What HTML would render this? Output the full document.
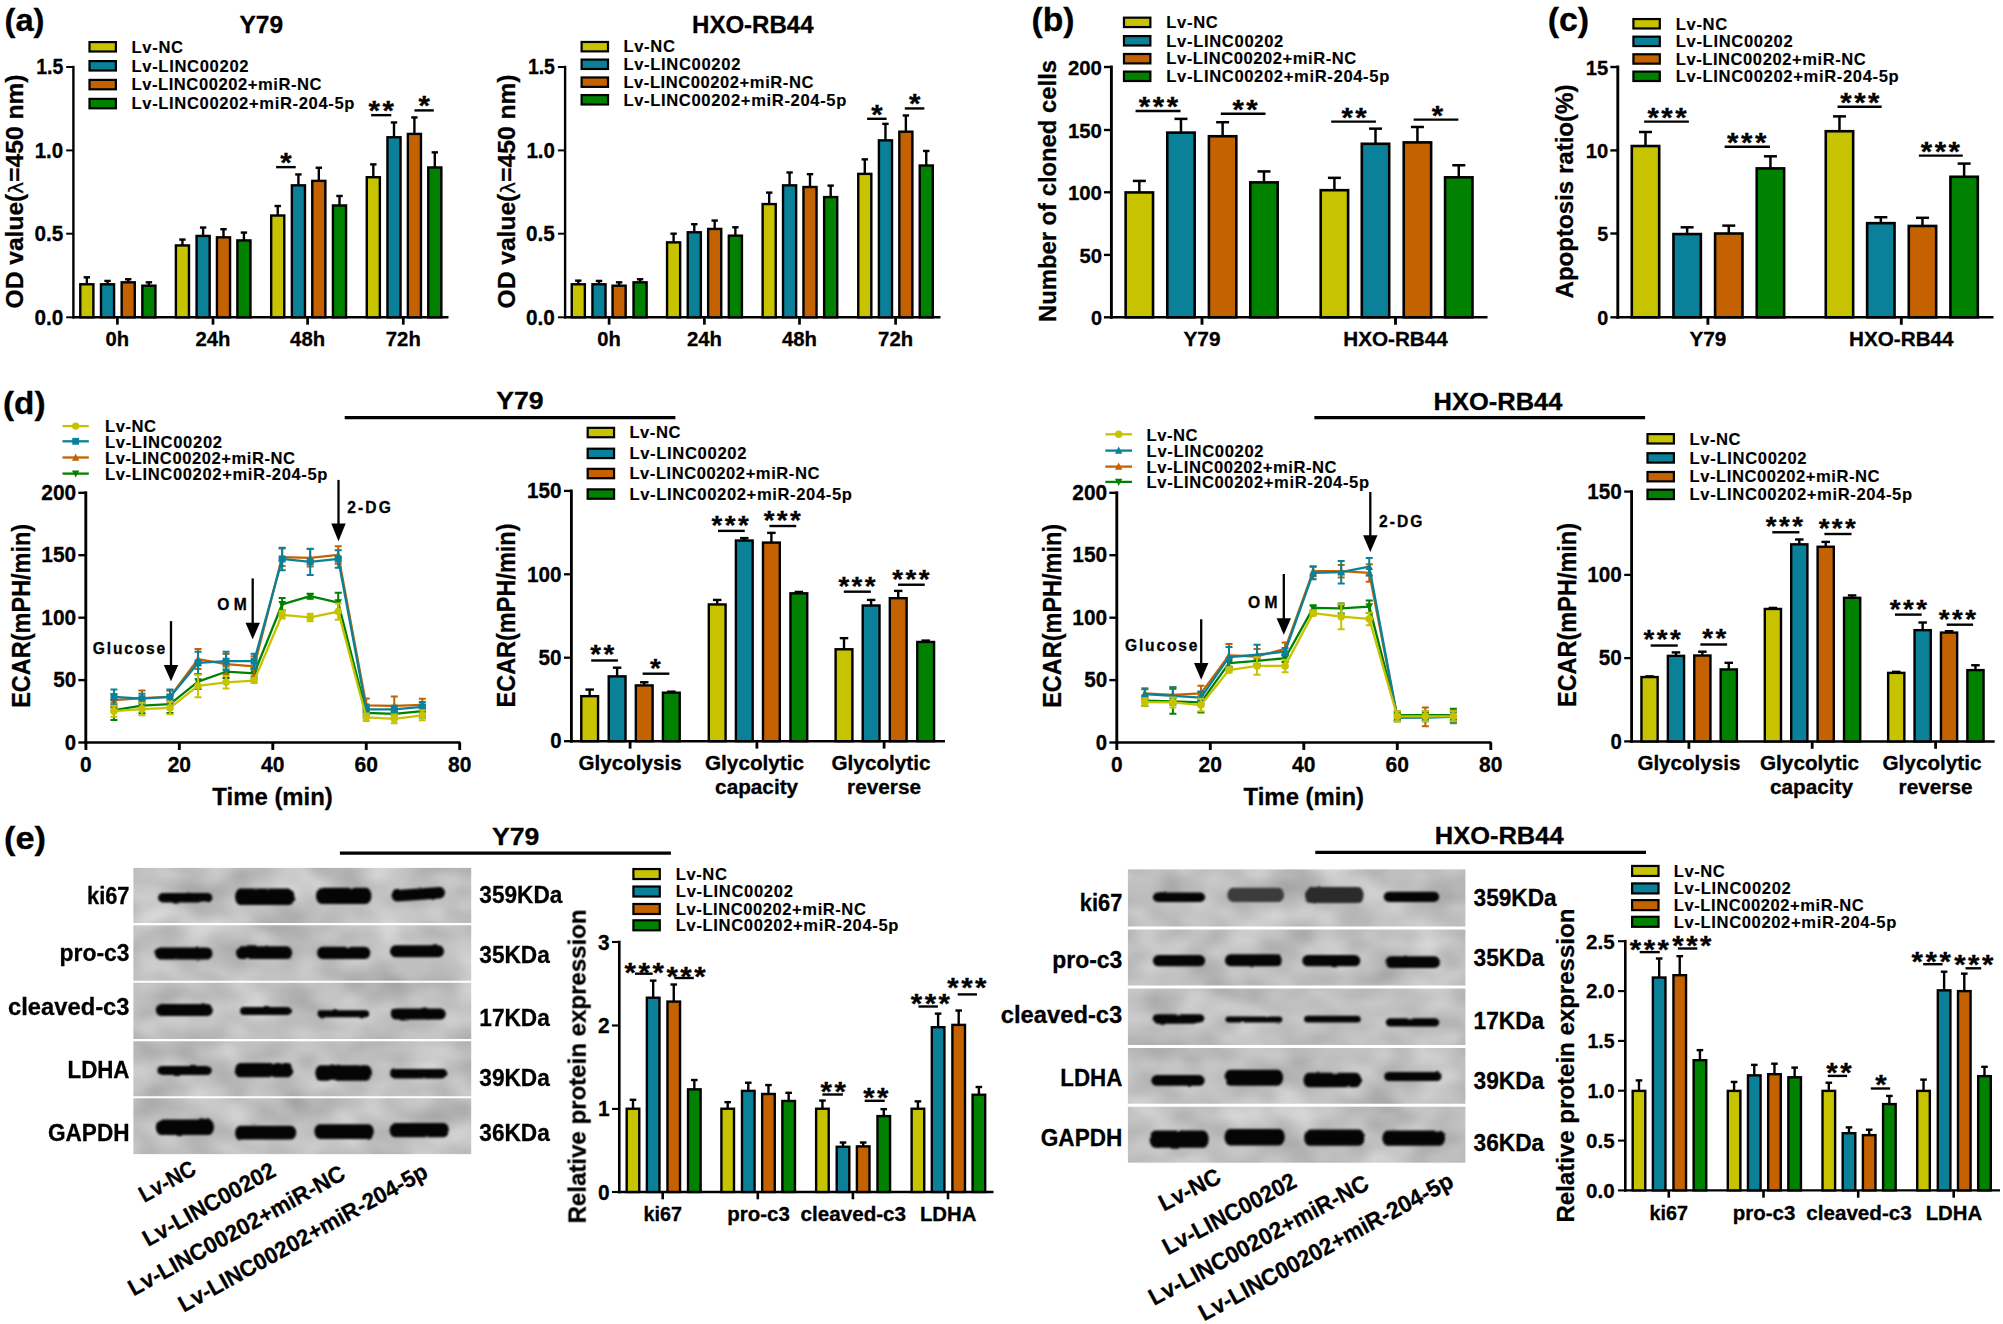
<!DOCTYPE html>
<html lang="en">
<head>
<meta charset="utf-8">
<title>LINC00202 / miR-204-5p figure</title>
<style>
html,body{margin:0;padding:0;background:#fff;}
body{width:2003px;height:1324px;overflow:hidden;font-family:"Liberation Sans",Arial,sans-serif;}
svg{display:block;}
svg text{white-space:pre;stroke:#000;stroke-width:.3px;}
svg text.lg{stroke-width:.12px;}
</style>
</head>
<body>
<svg width="2003" height="1324" viewBox="0 0 2003 1324" font-family="'Liberation Sans', Arial, Helvetica, sans-serif" font-weight="bold" fill="#000">
<rect x="0" y="0" width="2003" height="1324" fill="#fff" stroke="none"/>
<defs><filter id="bl" x="-5%" y="-5%" width="110%" height="110%" color-interpolation-filters="sRGB"><feTurbulence type="fractalNoise" baseFrequency="0.07" numOctaves="2" seed="11" result="t"/><feDisplacementMap in="SourceGraphic" in2="t" scale="2.2" xChannelSelector="R" yChannelSelector="G" result="d"/><feGaussianBlur in="d" stdDeviation="1.15"/></filter><filter id="blbg" x="0" y="0" width="100%" height="100%" color-interpolation-filters="sRGB"><feTurbulence type="fractalNoise" baseFrequency="0.022 0.032" numOctaves="2" seed="7" result="n"/><feColorMatrix in="n" type="matrix" values="0.28 0 0 0 0.61  0.28 0 0 0 0.61  0.28 0 0 0 0.61  0 0 0 0 1" result="g"/><feComposite in="g" in2="SourceGraphic" operator="in"/></filter></defs>
<text x="4.5" y="31" font-size="31.5" textLength="40" lengthAdjust="spacingAndGlyphs">(a)</text>
<text x="261.3" y="33.2" font-size="23.8" text-anchor="middle" textLength="43.6" lengthAdjust="spacingAndGlyphs">Y79</text>
<line x1="73.4" y1="65.8" x2="73.4" y2="318.5" stroke="#000" stroke-width="2.4"/>
<line x1="66.2" y1="67" x2="73.4" y2="67" stroke="#000" stroke-width="1.97"/>
<text x="63.2" y="74.33" font-size="21.3" text-anchor="end" textLength="27" lengthAdjust="spacingAndGlyphs">1.5</text>
<line x1="66.2" y1="150.4" x2="73.4" y2="150.4" stroke="#000" stroke-width="1.97"/>
<text x="63.2" y="157.73" font-size="21.3" text-anchor="end" textLength="28.5" lengthAdjust="spacingAndGlyphs">1.0</text>
<line x1="66.2" y1="233.7" x2="73.4" y2="233.7" stroke="#000" stroke-width="1.97"/>
<text x="63.2" y="241.03" font-size="21.3" text-anchor="end" textLength="28.8" lengthAdjust="spacingAndGlyphs">0.5</text>
<line x1="66.2" y1="317.3" x2="73.4" y2="317.3" stroke="#000" stroke-width="1.97"/>
<text x="63.2" y="324.63" font-size="21.3" text-anchor="end" textLength="28.8" lengthAdjust="spacingAndGlyphs">0.0</text>
<line x1="72.25" y1="317.3" x2="448.5" y2="317.3" stroke="#000" stroke-width="2.43"/>
<line x1="117.4" y1="317.3" x2="117.4" y2="324.65" stroke="#000" stroke-width="2.7"/>
<line x1="213" y1="317.3" x2="213" y2="324.65" stroke="#000" stroke-width="2.7"/>
<line x1="307.6" y1="317.3" x2="307.6" y2="324.65" stroke="#000" stroke-width="2.7"/>
<line x1="403.3" y1="317.3" x2="403.3" y2="324.65" stroke="#000" stroke-width="2.7"/>
<text x="117.4" y="346" font-size="20.6" text-anchor="middle" textLength="23.6" lengthAdjust="spacingAndGlyphs">0h</text>
<text x="213" y="346" font-size="20.6" text-anchor="middle" textLength="35" lengthAdjust="spacingAndGlyphs">24h</text>
<text x="307.6" y="346" font-size="20.6" text-anchor="middle" textLength="35" lengthAdjust="spacingAndGlyphs">48h</text>
<text x="403.3" y="346" font-size="20.6" text-anchor="middle" textLength="35" lengthAdjust="spacingAndGlyphs">72h</text>
<text x="23.3" y="191.5" font-size="24.5" text-anchor="middle" textLength="234" lengthAdjust="spacingAndGlyphs" transform="rotate(-90 23.3 191.5)">OD value(<tspan font-family="'DejaVu Sans',sans-serif" font-weight="normal" font-size="20">λ</tspan>=450 nm)</text>
<rect x="89.5" y="42.1" width="26.4" height="9.4" fill="#c7c300" stroke="#000" stroke-width="2.2"/>
<text x="131.5" y="52.58" font-size="16.6" textLength="51.5" lengthAdjust="spacing" class="lg">Lv-NC</text>
<rect x="89.5" y="61.1" width="26.4" height="9.4" fill="#0a8099" stroke="#000" stroke-width="2.2"/>
<text x="131.5" y="71.58" font-size="16.6" textLength="117" lengthAdjust="spacing" class="lg">Lv-LINC00202</text>
<rect x="89.5" y="79.9" width="26.4" height="9.4" fill="#c46100" stroke="#000" stroke-width="2.2"/>
<text x="131.5" y="90.38" font-size="16.6" textLength="190" lengthAdjust="spacing" class="lg">Lv-LINC00202+miR-NC</text>
<rect x="89.5" y="98.9" width="26.4" height="9.4" fill="#008200" stroke="#000" stroke-width="2.2"/>
<text x="131.5" y="109.38" font-size="16.6" textLength="223" lengthAdjust="spacing" class="lg">Lv-LINC00202+miR-204-5p</text>
<line x1="86.84" y1="277.29" x2="86.84" y2="284.08" stroke="#000" stroke-width="2.4"/>
<line x1="83.64" y1="277.29" x2="90.04" y2="277.29" stroke="#000" stroke-width="2.4"/>
<rect x="80.29" y="284.28" width="13.1" height="33.02" fill="#c7c300" stroke="#000" stroke-width="2.4"/>
<line x1="107.53" y1="280.92" x2="107.53" y2="284.08" stroke="#000" stroke-width="2.4"/>
<line x1="104.33" y1="280.92" x2="110.73" y2="280.92" stroke="#000" stroke-width="2.4"/>
<rect x="100.98" y="284.28" width="13.1" height="33.02" fill="#0a8099" stroke="#000" stroke-width="2.4"/>
<line x1="128.21" y1="279.25" x2="128.21" y2="282.12" stroke="#000" stroke-width="2.4"/>
<line x1="125.01" y1="279.25" x2="131.41" y2="279.25" stroke="#000" stroke-width="2.4"/>
<rect x="121.66" y="282.32" width="13.1" height="34.98" fill="#c46100" stroke="#000" stroke-width="2.4"/>
<line x1="148.89" y1="282.32" x2="148.89" y2="285.48" stroke="#000" stroke-width="2.4"/>
<line x1="145.69" y1="282.32" x2="152.09" y2="282.32" stroke="#000" stroke-width="2.4"/>
<rect x="142.34" y="285.68" width="13.1" height="31.62" fill="#008200" stroke="#000" stroke-width="2.4"/>
<line x1="182.43" y1="239.56" x2="182.43" y2="245.23" stroke="#000" stroke-width="2.4"/>
<line x1="179.23" y1="239.56" x2="185.63" y2="239.56" stroke="#000" stroke-width="2.4"/>
<rect x="175.88" y="245.43" width="13.1" height="71.87" fill="#c7c300" stroke="#000" stroke-width="2.4"/>
<line x1="203.11" y1="227.54" x2="203.11" y2="235.73" stroke="#000" stroke-width="2.4"/>
<line x1="199.91" y1="227.54" x2="206.31" y2="227.54" stroke="#000" stroke-width="2.4"/>
<rect x="196.56" y="235.93" width="13.1" height="81.37" fill="#0a8099" stroke="#000" stroke-width="2.4"/>
<line x1="223.51" y1="229.22" x2="223.51" y2="237.12" stroke="#000" stroke-width="2.4"/>
<line x1="220.31" y1="229.22" x2="226.71" y2="229.22" stroke="#000" stroke-width="2.4"/>
<rect x="216.96" y="237.32" width="13.1" height="79.98" fill="#c46100" stroke="#000" stroke-width="2.4"/>
<line x1="243.92" y1="232.57" x2="243.92" y2="240.2" stroke="#000" stroke-width="2.4"/>
<line x1="240.72" y1="232.57" x2="247.12" y2="232.57" stroke="#000" stroke-width="2.4"/>
<rect x="237.37" y="240.4" width="13.1" height="76.9" fill="#008200" stroke="#000" stroke-width="2.4"/>
<line x1="277.73" y1="206.02" x2="277.73" y2="215.32" stroke="#000" stroke-width="2.4"/>
<line x1="274.53" y1="206.02" x2="280.93" y2="206.02" stroke="#000" stroke-width="2.4"/>
<rect x="271.18" y="215.52" width="13.1" height="101.78" fill="#c7c300" stroke="#000" stroke-width="2.4"/>
<line x1="298.42" y1="174.44" x2="298.42" y2="185.14" stroke="#000" stroke-width="2.4"/>
<line x1="295.22" y1="174.44" x2="301.62" y2="174.44" stroke="#000" stroke-width="2.4"/>
<rect x="291.87" y="185.34" width="13.1" height="131.96" fill="#0a8099" stroke="#000" stroke-width="2.4"/>
<line x1="318.82" y1="167.73" x2="318.82" y2="180.67" stroke="#000" stroke-width="2.4"/>
<line x1="315.62" y1="167.73" x2="322.02" y2="167.73" stroke="#000" stroke-width="2.4"/>
<rect x="312.27" y="180.87" width="13.1" height="136.43" fill="#c46100" stroke="#000" stroke-width="2.4"/>
<line x1="339.5" y1="195.96" x2="339.5" y2="205.26" stroke="#000" stroke-width="2.4"/>
<line x1="336.3" y1="195.96" x2="342.7" y2="195.96" stroke="#000" stroke-width="2.4"/>
<rect x="332.95" y="205.46" width="13.1" height="111.84" fill="#008200" stroke="#000" stroke-width="2.4"/>
<line x1="373.32" y1="164.38" x2="373.32" y2="177.03" stroke="#000" stroke-width="2.4"/>
<line x1="370.12" y1="164.38" x2="376.52" y2="164.38" stroke="#000" stroke-width="2.4"/>
<rect x="366.77" y="177.23" width="13.1" height="140.07" fill="#c7c300" stroke="#000" stroke-width="2.4"/>
<line x1="394" y1="122.46" x2="394" y2="137.07" stroke="#000" stroke-width="2.4"/>
<line x1="390.8" y1="122.46" x2="397.2" y2="122.46" stroke="#000" stroke-width="2.4"/>
<rect x="387.45" y="137.27" width="13.1" height="180.03" fill="#0a8099" stroke="#000" stroke-width="2.4"/>
<line x1="414.4" y1="117.43" x2="414.4" y2="133.71" stroke="#000" stroke-width="2.4"/>
<line x1="411.2" y1="117.43" x2="417.6" y2="117.43" stroke="#000" stroke-width="2.4"/>
<rect x="407.85" y="133.91" width="13.1" height="183.39" fill="#c46100" stroke="#000" stroke-width="2.4"/>
<line x1="434.8" y1="152.36" x2="434.8" y2="167.25" stroke="#000" stroke-width="2.4"/>
<line x1="431.6" y1="152.36" x2="438" y2="152.36" stroke="#000" stroke-width="2.4"/>
<rect x="428.25" y="167.45" width="13.1" height="149.85" fill="#008200" stroke="#000" stroke-width="2.4"/>
<line x1="276.13" y1="167.13" x2="295.7" y2="167.13" stroke="#000" stroke-width="2.4"/>
<text x="285.91" y="172.09" font-size="27" text-anchor="middle" textLength="11.4" lengthAdjust="spacingAndGlyphs">*</text>
<line x1="371.16" y1="115.15" x2="391.28" y2="115.15" stroke="#000" stroke-width="2.4"/>
<text x="374.27" y="120.11" font-size="27" text-anchor="middle" textLength="11.4" lengthAdjust="spacingAndGlyphs">*</text>
<text x="388.17" y="120.11" font-size="27" text-anchor="middle" textLength="11.4" lengthAdjust="spacingAndGlyphs">*</text>
<line x1="414.48" y1="110.4" x2="433.76" y2="110.4" stroke="#000" stroke-width="2.4"/>
<text x="424.12" y="115.36" font-size="27" text-anchor="middle" textLength="11.4" lengthAdjust="spacingAndGlyphs">*</text>
<text x="752.8" y="33.4" font-size="24" text-anchor="middle" textLength="121.5" lengthAdjust="spacingAndGlyphs">HXO-RB44</text>
<line x1="565.1" y1="65.8" x2="565.1" y2="318.5" stroke="#000" stroke-width="2.4"/>
<line x1="557.9" y1="67" x2="565.1" y2="67" stroke="#000" stroke-width="1.97"/>
<text x="554.9" y="74.33" font-size="21.3" text-anchor="end" textLength="27" lengthAdjust="spacingAndGlyphs">1.5</text>
<line x1="557.9" y1="150.4" x2="565.1" y2="150.4" stroke="#000" stroke-width="1.97"/>
<text x="554.9" y="157.73" font-size="21.3" text-anchor="end" textLength="28.5" lengthAdjust="spacingAndGlyphs">1.0</text>
<line x1="557.9" y1="233.7" x2="565.1" y2="233.7" stroke="#000" stroke-width="1.97"/>
<text x="554.9" y="241.03" font-size="21.3" text-anchor="end" textLength="28.8" lengthAdjust="spacingAndGlyphs">0.5</text>
<line x1="557.9" y1="317.3" x2="565.1" y2="317.3" stroke="#000" stroke-width="1.97"/>
<text x="554.9" y="324.63" font-size="21.3" text-anchor="end" textLength="28.8" lengthAdjust="spacingAndGlyphs">0.0</text>
<line x1="563.95" y1="317.3" x2="940.5" y2="317.3" stroke="#000" stroke-width="2.43"/>
<line x1="609.1" y1="317.3" x2="609.1" y2="324.65" stroke="#000" stroke-width="2.7"/>
<line x1="704.4" y1="317.3" x2="704.4" y2="324.65" stroke="#000" stroke-width="2.7"/>
<line x1="799.5" y1="317.3" x2="799.5" y2="324.65" stroke="#000" stroke-width="2.7"/>
<line x1="895.6" y1="317.3" x2="895.6" y2="324.65" stroke="#000" stroke-width="2.7"/>
<text x="609.1" y="346" font-size="20.6" text-anchor="middle" textLength="23.6" lengthAdjust="spacingAndGlyphs">0h</text>
<text x="704.4" y="346" font-size="20.6" text-anchor="middle" textLength="35" lengthAdjust="spacingAndGlyphs">24h</text>
<text x="799.5" y="346" font-size="20.6" text-anchor="middle" textLength="35" lengthAdjust="spacingAndGlyphs">48h</text>
<text x="895.6" y="346" font-size="20.6" text-anchor="middle" textLength="35" lengthAdjust="spacingAndGlyphs">72h</text>
<text x="514.8" y="191.5" font-size="24.5" text-anchor="middle" textLength="234" lengthAdjust="spacingAndGlyphs" transform="rotate(-90 514.8 191.5)">OD value(<tspan font-family="'DejaVu Sans',sans-serif" font-weight="normal" font-size="20">λ</tspan>=450 nm)</text>
<rect x="581.61" y="41.97" width="26.4" height="9.4" fill="#c7c300" stroke="#000" stroke-width="2.2"/>
<text x="623.38" y="52.45" font-size="16.6" textLength="51.5" lengthAdjust="spacing" class="lg">Lv-NC</text>
<rect x="581.61" y="59.58" width="26.4" height="9.4" fill="#0a8099" stroke="#000" stroke-width="2.2"/>
<text x="623.38" y="70.06" font-size="16.6" textLength="117" lengthAdjust="spacing" class="lg">Lv-LINC00202</text>
<rect x="581.61" y="77.47" width="26.4" height="9.4" fill="#c46100" stroke="#000" stroke-width="2.2"/>
<text x="623.38" y="87.94" font-size="16.6" textLength="190" lengthAdjust="spacing" class="lg">Lv-LINC00202+miR-NC</text>
<rect x="581.61" y="95.08" width="26.4" height="9.4" fill="#008200" stroke="#000" stroke-width="2.2"/>
<text x="623.38" y="105.55" font-size="16.6" textLength="223" lengthAdjust="spacing" class="lg">Lv-LINC00202+miR-204-5p</text>
<line x1="578.3" y1="280.64" x2="578.3" y2="284.08" stroke="#000" stroke-width="2.4"/>
<line x1="575.1" y1="280.64" x2="581.5" y2="280.64" stroke="#000" stroke-width="2.4"/>
<rect x="571.75" y="284.28" width="13.1" height="33.02" fill="#c7c300" stroke="#000" stroke-width="2.4"/>
<line x1="598.99" y1="280.92" x2="598.99" y2="284.08" stroke="#000" stroke-width="2.4"/>
<line x1="595.79" y1="280.92" x2="602.19" y2="280.92" stroke="#000" stroke-width="2.4"/>
<rect x="592.44" y="284.28" width="13.1" height="33.02" fill="#0a8099" stroke="#000" stroke-width="2.4"/>
<line x1="619.11" y1="282.32" x2="619.11" y2="285.48" stroke="#000" stroke-width="2.4"/>
<line x1="615.91" y1="282.32" x2="622.31" y2="282.32" stroke="#000" stroke-width="2.4"/>
<rect x="612.56" y="285.68" width="13.1" height="31.62" fill="#c46100" stroke="#000" stroke-width="2.4"/>
<line x1="640.07" y1="279.25" x2="640.07" y2="282.12" stroke="#000" stroke-width="2.4"/>
<line x1="636.87" y1="279.25" x2="643.27" y2="279.25" stroke="#000" stroke-width="2.4"/>
<rect x="633.52" y="282.32" width="13.1" height="34.98" fill="#008200" stroke="#000" stroke-width="2.4"/>
<line x1="673.61" y1="233.69" x2="673.61" y2="242.16" stroke="#000" stroke-width="2.4"/>
<line x1="670.41" y1="233.69" x2="676.81" y2="233.69" stroke="#000" stroke-width="2.4"/>
<rect x="667.06" y="242.36" width="13.1" height="74.94" fill="#c7c300" stroke="#000" stroke-width="2.4"/>
<line x1="694.29" y1="224.19" x2="694.29" y2="232.09" stroke="#000" stroke-width="2.4"/>
<line x1="691.09" y1="224.19" x2="697.49" y2="224.19" stroke="#000" stroke-width="2.4"/>
<rect x="687.74" y="232.29" width="13.1" height="85.01" fill="#0a8099" stroke="#000" stroke-width="2.4"/>
<line x1="714.69" y1="220.56" x2="714.69" y2="228.74" stroke="#000" stroke-width="2.4"/>
<line x1="711.49" y1="220.56" x2="717.89" y2="220.56" stroke="#000" stroke-width="2.4"/>
<rect x="708.14" y="228.94" width="13.1" height="88.36" fill="#c46100" stroke="#000" stroke-width="2.4"/>
<line x1="735.37" y1="227.26" x2="735.37" y2="235.45" stroke="#000" stroke-width="2.4"/>
<line x1="732.17" y1="227.26" x2="738.57" y2="227.26" stroke="#000" stroke-width="2.4"/>
<rect x="728.82" y="235.65" width="13.1" height="81.65" fill="#008200" stroke="#000" stroke-width="2.4"/>
<line x1="769.19" y1="192.61" x2="769.19" y2="203.87" stroke="#000" stroke-width="2.4"/>
<line x1="765.99" y1="192.61" x2="772.39" y2="192.61" stroke="#000" stroke-width="2.4"/>
<rect x="762.64" y="204.07" width="13.1" height="113.23" fill="#c7c300" stroke="#000" stroke-width="2.4"/>
<line x1="789.59" y1="172.48" x2="789.59" y2="185.14" stroke="#000" stroke-width="2.4"/>
<line x1="786.39" y1="172.48" x2="792.79" y2="172.48" stroke="#000" stroke-width="2.4"/>
<rect x="783.04" y="185.34" width="13.1" height="131.96" fill="#0a8099" stroke="#000" stroke-width="2.4"/>
<line x1="810" y1="174.16" x2="810" y2="186.82" stroke="#000" stroke-width="2.4"/>
<line x1="806.8" y1="174.16" x2="813.2" y2="174.16" stroke="#000" stroke-width="2.4"/>
<rect x="803.45" y="187.02" width="13.1" height="130.28" fill="#c46100" stroke="#000" stroke-width="2.4"/>
<line x1="830.68" y1="185.62" x2="830.68" y2="196.88" stroke="#000" stroke-width="2.4"/>
<line x1="827.48" y1="185.62" x2="833.88" y2="185.62" stroke="#000" stroke-width="2.4"/>
<rect x="824.13" y="197.08" width="13.1" height="120.22" fill="#008200" stroke="#000" stroke-width="2.4"/>
<line x1="864.78" y1="159.35" x2="864.78" y2="173.68" stroke="#000" stroke-width="2.4"/>
<line x1="861.58" y1="159.35" x2="867.98" y2="159.35" stroke="#000" stroke-width="2.4"/>
<rect x="858.23" y="173.88" width="13.1" height="143.42" fill="#c7c300" stroke="#000" stroke-width="2.4"/>
<line x1="885.46" y1="123.85" x2="885.46" y2="140.14" stroke="#000" stroke-width="2.4"/>
<line x1="882.26" y1="123.85" x2="888.66" y2="123.85" stroke="#000" stroke-width="2.4"/>
<rect x="878.91" y="140.34" width="13.1" height="176.96" fill="#0a8099" stroke="#000" stroke-width="2.4"/>
<line x1="905.86" y1="115.47" x2="905.86" y2="131.48" stroke="#000" stroke-width="2.4"/>
<line x1="902.66" y1="115.47" x2="909.06" y2="115.47" stroke="#000" stroke-width="2.4"/>
<rect x="899.31" y="131.68" width="13.1" height="185.62" fill="#c46100" stroke="#000" stroke-width="2.4"/>
<line x1="926.26" y1="150.96" x2="926.26" y2="165.3" stroke="#000" stroke-width="2.4"/>
<line x1="923.06" y1="150.96" x2="929.46" y2="150.96" stroke="#000" stroke-width="2.4"/>
<rect x="919.71" y="165.5" width="13.1" height="151.8" fill="#008200" stroke="#000" stroke-width="2.4"/>
<line x1="867.09" y1="118.78" x2="886.65" y2="118.78" stroke="#000" stroke-width="2.4"/>
<text x="876.87" y="123.74" font-size="27" text-anchor="middle" textLength="11.4" lengthAdjust="spacingAndGlyphs">*</text>
<line x1="904.82" y1="108.44" x2="924.38" y2="108.44" stroke="#000" stroke-width="2.4"/>
<text x="914.6" y="113.4" font-size="27" text-anchor="middle" textLength="11.4" lengthAdjust="spacingAndGlyphs">*</text>
<text x="1031.5" y="30.5" font-size="32.5" textLength="43" lengthAdjust="spacingAndGlyphs">(b)</text>
<line x1="1111.4" y1="65.55" x2="1111.4" y2="318.75" stroke="#000" stroke-width="2.9"/>
<line x1="1103.95" y1="67" x2="1111.4" y2="67" stroke="#000" stroke-width="2.38"/>
<text x="1101.95" y="74.95" font-size="20.8" text-anchor="end" textLength="34" lengthAdjust="spacingAndGlyphs">200</text>
<line x1="1103.95" y1="130" x2="1111.4" y2="130" stroke="#000" stroke-width="2.38"/>
<text x="1101.95" y="137.95" font-size="20.8" text-anchor="end" textLength="34" lengthAdjust="spacingAndGlyphs">150</text>
<line x1="1103.95" y1="192.3" x2="1111.4" y2="192.3" stroke="#000" stroke-width="2.38"/>
<text x="1101.95" y="200.25" font-size="20.8" text-anchor="end" textLength="34" lengthAdjust="spacingAndGlyphs">100</text>
<line x1="1103.95" y1="254.9" x2="1111.4" y2="254.9" stroke="#000" stroke-width="2.38"/>
<text x="1101.95" y="262.85" font-size="20.8" text-anchor="end" textLength="22.5" lengthAdjust="spacingAndGlyphs">50</text>
<line x1="1103.95" y1="317.3" x2="1111.4" y2="317.3" stroke="#000" stroke-width="2.38"/>
<text x="1101.95" y="325.25" font-size="20.8" text-anchor="end" textLength="11" lengthAdjust="spacingAndGlyphs">0</text>
<line x1="1109.95" y1="317.3" x2="1487.5" y2="317.3" stroke="#000" stroke-width="2.61"/>
<line x1="1202" y1="317.3" x2="1202" y2="324.75" stroke="#000" stroke-width="2.9"/>
<line x1="1395.5" y1="317.3" x2="1395.5" y2="324.75" stroke="#000" stroke-width="2.9"/>
<text x="1202" y="345.5" font-size="20.5" text-anchor="middle" textLength="37" lengthAdjust="spacingAndGlyphs">Y79</text>
<text x="1395.5" y="345.5" font-size="20.5" text-anchor="middle" textLength="104.5" lengthAdjust="spacingAndGlyphs">HXO-RB44</text>
<text x="1056.2" y="191" font-size="24.5" text-anchor="middle" textLength="262" lengthAdjust="spacingAndGlyphs" transform="rotate(-90 1056.2 191)">Number of cloned cells</text>
<rect x="1123.97" y="17.66" width="26.4" height="9.4" fill="#c7c300" stroke="#000" stroke-width="2.2"/>
<text x="1166.29" y="28.13" font-size="16.6" textLength="51.5" lengthAdjust="spacing" class="lg">Lv-NC</text>
<rect x="1123.97" y="36.1" width="26.4" height="9.4" fill="#0a8099" stroke="#000" stroke-width="2.2"/>
<text x="1166.29" y="46.58" font-size="16.6" textLength="117" lengthAdjust="spacing" class="lg">Lv-LINC00202</text>
<rect x="1123.97" y="53.99" width="26.4" height="9.4" fill="#c46100" stroke="#000" stroke-width="2.2"/>
<text x="1166.29" y="64.47" font-size="16.6" textLength="190" lengthAdjust="spacing" class="lg">Lv-LINC00202+miR-NC</text>
<rect x="1123.97" y="71.6" width="26.4" height="9.4" fill="#008200" stroke="#000" stroke-width="2.2"/>
<text x="1166.29" y="82.08" font-size="16.6" textLength="223" lengthAdjust="spacing" class="lg">Lv-LINC00202+miR-204-5p</text>
<line x1="1139.33" y1="180.92" x2="1139.33" y2="192.13" stroke="#000" stroke-width="2.5"/>
<line x1="1132.83" y1="180.92" x2="1145.83" y2="180.92" stroke="#000" stroke-width="2.5"/>
<rect x="1125.63" y="192.43" width="27.4" height="124.87" fill="#c7c300" stroke="#000" stroke-width="2.6"/>
<line x1="1180.97" y1="118.87" x2="1180.97" y2="132.32" stroke="#000" stroke-width="2.5"/>
<line x1="1174.47" y1="118.87" x2="1187.47" y2="118.87" stroke="#000" stroke-width="2.5"/>
<rect x="1167.27" y="132.62" width="27.4" height="184.68" fill="#0a8099" stroke="#000" stroke-width="2.6"/>
<line x1="1222.62" y1="122.23" x2="1222.62" y2="135.95" stroke="#000" stroke-width="2.5"/>
<line x1="1216.12" y1="122.23" x2="1229.12" y2="122.23" stroke="#000" stroke-width="2.5"/>
<rect x="1208.92" y="136.25" width="27.4" height="181.05" fill="#c46100" stroke="#000" stroke-width="2.6"/>
<line x1="1263.98" y1="171.42" x2="1263.98" y2="182.07" stroke="#000" stroke-width="2.5"/>
<line x1="1257.48" y1="171.42" x2="1270.48" y2="171.42" stroke="#000" stroke-width="2.5"/>
<rect x="1250.28" y="182.37" width="27.4" height="134.93" fill="#008200" stroke="#000" stroke-width="2.6"/>
<line x1="1334.41" y1="177.84" x2="1334.41" y2="189.89" stroke="#000" stroke-width="2.5"/>
<line x1="1327.91" y1="177.84" x2="1340.91" y2="177.84" stroke="#000" stroke-width="2.5"/>
<rect x="1320.71" y="190.19" width="27.4" height="127.11" fill="#c7c300" stroke="#000" stroke-width="2.6"/>
<line x1="1375.5" y1="128.65" x2="1375.5" y2="143.5" stroke="#000" stroke-width="2.5"/>
<line x1="1369" y1="128.65" x2="1382" y2="128.65" stroke="#000" stroke-width="2.5"/>
<rect x="1361.8" y="143.8" width="27.4" height="173.5" fill="#0a8099" stroke="#000" stroke-width="2.6"/>
<line x1="1417.42" y1="126.98" x2="1417.42" y2="142.1" stroke="#000" stroke-width="2.5"/>
<line x1="1410.92" y1="126.98" x2="1423.92" y2="126.98" stroke="#000" stroke-width="2.5"/>
<rect x="1403.72" y="142.4" width="27.4" height="174.9" fill="#c46100" stroke="#000" stroke-width="2.6"/>
<line x1="1458.78" y1="165.27" x2="1458.78" y2="177.03" stroke="#000" stroke-width="2.5"/>
<line x1="1452.28" y1="165.27" x2="1465.28" y2="165.27" stroke="#000" stroke-width="2.5"/>
<rect x="1445.08" y="177.33" width="27.4" height="139.97" fill="#008200" stroke="#000" stroke-width="2.6"/>
<line x1="1135.55" y1="110.96" x2="1180.55" y2="110.96" stroke="#000" stroke-width="2.4"/>
<text x="1144.57" y="115.91" font-size="27" text-anchor="middle" textLength="11.4" lengthAdjust="spacingAndGlyphs">*</text>
<text x="1158.47" y="115.91" font-size="27" text-anchor="middle" textLength="11.4" lengthAdjust="spacingAndGlyphs">*</text>
<text x="1172.37" y="115.91" font-size="27" text-anchor="middle" textLength="11.4" lengthAdjust="spacingAndGlyphs">*</text>
<line x1="1220.79" y1="113.75" x2="1265.51" y2="113.75" stroke="#000" stroke-width="2.4"/>
<text x="1238.16" y="118.71" font-size="27" text-anchor="middle" textLength="11.4" lengthAdjust="spacingAndGlyphs">*</text>
<text x="1252.06" y="118.71" font-size="27" text-anchor="middle" textLength="11.4" lengthAdjust="spacingAndGlyphs">*</text>
<line x1="1331.19" y1="121.58" x2="1375.91" y2="121.58" stroke="#000" stroke-width="2.4"/>
<text x="1347.16" y="126.54" font-size="27" text-anchor="middle" textLength="11.4" lengthAdjust="spacingAndGlyphs">*</text>
<text x="1361.06" y="126.54" font-size="27" text-anchor="middle" textLength="11.4" lengthAdjust="spacingAndGlyphs">*</text>
<line x1="1413.64" y1="119.62" x2="1458.36" y2="119.62" stroke="#000" stroke-width="2.4"/>
<text x="1437.4" y="124.58" font-size="27" text-anchor="middle" textLength="11.4" lengthAdjust="spacingAndGlyphs">*</text>
<text x="1547.7" y="30.5" font-size="32.5" textLength="41.5" lengthAdjust="spacingAndGlyphs">(c)</text>
<line x1="1617.8" y1="65.55" x2="1617.8" y2="318.75" stroke="#000" stroke-width="2.9"/>
<line x1="1610.35" y1="67" x2="1617.8" y2="67" stroke="#000" stroke-width="2.38"/>
<text x="1608.35" y="74.95" font-size="20.8" text-anchor="end" textLength="22.5" lengthAdjust="spacingAndGlyphs">15</text>
<line x1="1610.35" y1="150.4" x2="1617.8" y2="150.4" stroke="#000" stroke-width="2.38"/>
<text x="1608.35" y="158.35" font-size="20.8" text-anchor="end" textLength="22.5" lengthAdjust="spacingAndGlyphs">10</text>
<line x1="1610.35" y1="233.5" x2="1617.8" y2="233.5" stroke="#000" stroke-width="2.38"/>
<text x="1608.35" y="241.45" font-size="20.8" text-anchor="end" textLength="11" lengthAdjust="spacingAndGlyphs">5</text>
<line x1="1610.35" y1="317.3" x2="1617.8" y2="317.3" stroke="#000" stroke-width="2.38"/>
<text x="1608.35" y="325.25" font-size="20.8" text-anchor="end" textLength="11" lengthAdjust="spacingAndGlyphs">0</text>
<line x1="1616.35" y1="317.3" x2="1993.5" y2="317.3" stroke="#000" stroke-width="2.61"/>
<line x1="1707.9" y1="317.3" x2="1707.9" y2="324.75" stroke="#000" stroke-width="2.9"/>
<line x1="1901.3" y1="317.3" x2="1901.3" y2="324.75" stroke="#000" stroke-width="2.9"/>
<text x="1707.9" y="345.5" font-size="20.5" text-anchor="middle" textLength="37" lengthAdjust="spacingAndGlyphs">Y79</text>
<text x="1901.3" y="345.5" font-size="20.5" text-anchor="middle" textLength="104.5" lengthAdjust="spacingAndGlyphs">HXO-RB44</text>
<text x="1573" y="191.5" font-size="24.5" text-anchor="middle" textLength="214" lengthAdjust="spacingAndGlyphs" transform="rotate(-90 1573 191.5)">Apoptosis ratio(%)</text>
<rect x="1633.4" y="19.06" width="26.4" height="9.4" fill="#c7c300" stroke="#000" stroke-width="2.2"/>
<text x="1675.72" y="29.53" font-size="16.6" textLength="51.5" lengthAdjust="spacing" class="lg">Lv-NC</text>
<rect x="1633.4" y="36.66" width="26.4" height="9.4" fill="#0a8099" stroke="#000" stroke-width="2.2"/>
<text x="1675.72" y="47.14" font-size="16.6" textLength="117" lengthAdjust="spacing" class="lg">Lv-LINC00202</text>
<rect x="1633.4" y="54.27" width="26.4" height="9.4" fill="#c46100" stroke="#000" stroke-width="2.2"/>
<text x="1675.72" y="64.75" font-size="16.6" textLength="190" lengthAdjust="spacing" class="lg">Lv-LINC00202+miR-NC</text>
<rect x="1633.4" y="71.6" width="26.4" height="9.4" fill="#008200" stroke="#000" stroke-width="2.2"/>
<text x="1675.72" y="82.08" font-size="16.6" textLength="223" lengthAdjust="spacing" class="lg">Lv-LINC00202+miR-204-5p</text>
<line x1="1645.5" y1="132.01" x2="1645.5" y2="145.73" stroke="#000" stroke-width="2.5"/>
<line x1="1639" y1="132.01" x2="1652" y2="132.01" stroke="#000" stroke-width="2.5"/>
<rect x="1631.8" y="146.03" width="27.4" height="171.27" fill="#c7c300" stroke="#000" stroke-width="2.6"/>
<line x1="1687.15" y1="227.31" x2="1687.15" y2="233.77" stroke="#000" stroke-width="2.5"/>
<line x1="1680.65" y1="227.31" x2="1693.65" y2="227.31" stroke="#000" stroke-width="2.5"/>
<rect x="1673.45" y="234.07" width="27.4" height="83.23" fill="#0a8099" stroke="#000" stroke-width="2.6"/>
<line x1="1728.79" y1="225.64" x2="1728.79" y2="233.21" stroke="#000" stroke-width="2.5"/>
<line x1="1722.29" y1="225.64" x2="1735.29" y2="225.64" stroke="#000" stroke-width="2.5"/>
<rect x="1715.09" y="233.51" width="27.4" height="83.79" fill="#c46100" stroke="#000" stroke-width="2.6"/>
<line x1="1770.43" y1="156.32" x2="1770.43" y2="168.09" stroke="#000" stroke-width="2.5"/>
<line x1="1763.93" y1="156.32" x2="1776.93" y2="156.32" stroke="#000" stroke-width="2.5"/>
<rect x="1756.73" y="168.39" width="27.4" height="148.91" fill="#008200" stroke="#000" stroke-width="2.6"/>
<line x1="1839.47" y1="116.36" x2="1839.47" y2="130.92" stroke="#000" stroke-width="2.5"/>
<line x1="1832.97" y1="116.36" x2="1845.97" y2="116.36" stroke="#000" stroke-width="2.5"/>
<rect x="1825.77" y="131.22" width="27.4" height="186.08" fill="#c7c300" stroke="#000" stroke-width="2.6"/>
<line x1="1880.83" y1="217.25" x2="1880.83" y2="222.87" stroke="#000" stroke-width="2.5"/>
<line x1="1874.33" y1="217.25" x2="1887.33" y2="217.25" stroke="#000" stroke-width="2.5"/>
<rect x="1867.13" y="223.17" width="27.4" height="94.13" fill="#0a8099" stroke="#000" stroke-width="2.6"/>
<line x1="1922.47" y1="217.81" x2="1922.47" y2="225.67" stroke="#000" stroke-width="2.5"/>
<line x1="1915.97" y1="217.81" x2="1928.97" y2="217.81" stroke="#000" stroke-width="2.5"/>
<rect x="1908.77" y="225.97" width="27.4" height="91.33" fill="#c46100" stroke="#000" stroke-width="2.6"/>
<line x1="1964.12" y1="163.59" x2="1964.12" y2="176.48" stroke="#000" stroke-width="2.5"/>
<line x1="1957.62" y1="163.59" x2="1970.62" y2="163.59" stroke="#000" stroke-width="2.5"/>
<rect x="1950.42" y="176.78" width="27.4" height="140.52" fill="#008200" stroke="#000" stroke-width="2.6"/>
<line x1="1644.14" y1="121.58" x2="1688.86" y2="121.58" stroke="#000" stroke-width="2.4"/>
<text x="1653.16" y="126.54" font-size="27" text-anchor="middle" textLength="11.4" lengthAdjust="spacingAndGlyphs">*</text>
<text x="1667.06" y="126.54" font-size="27" text-anchor="middle" textLength="11.4" lengthAdjust="spacingAndGlyphs">*</text>
<text x="1680.96" y="126.54" font-size="27" text-anchor="middle" textLength="11.4" lengthAdjust="spacingAndGlyphs">*</text>
<line x1="1724.63" y1="146.73" x2="1769.91" y2="146.73" stroke="#000" stroke-width="2.4"/>
<text x="1732.81" y="151.69" font-size="27" text-anchor="middle" textLength="11.4" lengthAdjust="spacingAndGlyphs">*</text>
<text x="1746.71" y="151.69" font-size="27" text-anchor="middle" textLength="11.4" lengthAdjust="spacingAndGlyphs">*</text>
<text x="1760.61" y="151.69" font-size="27" text-anchor="middle" textLength="11.4" lengthAdjust="spacingAndGlyphs">*</text>
<line x1="1837.54" y1="106.76" x2="1881.7" y2="106.76" stroke="#000" stroke-width="2.4"/>
<text x="1846" y="111.72" font-size="27" text-anchor="middle" textLength="11.4" lengthAdjust="spacingAndGlyphs">*</text>
<text x="1859.9" y="111.72" font-size="27" text-anchor="middle" textLength="11.4" lengthAdjust="spacingAndGlyphs">*</text>
<text x="1873.8" y="111.72" font-size="27" text-anchor="middle" textLength="11.4" lengthAdjust="spacingAndGlyphs">*</text>
<line x1="1918.87" y1="155.67" x2="1962.75" y2="155.67" stroke="#000" stroke-width="2.4"/>
<text x="1926.5" y="160.63" font-size="27" text-anchor="middle" textLength="11.4" lengthAdjust="spacingAndGlyphs">*</text>
<text x="1940.4" y="160.63" font-size="27" text-anchor="middle" textLength="11.4" lengthAdjust="spacingAndGlyphs">*</text>
<text x="1954.3" y="160.63" font-size="27" text-anchor="middle" textLength="11.4" lengthAdjust="spacingAndGlyphs">*</text>
<text x="3" y="414.3" font-size="31.5" textLength="42.5" lengthAdjust="spacingAndGlyphs">(d)</text>
<text x="520" y="409.3" font-size="23.8" text-anchor="middle" textLength="47.3" lengthAdjust="spacingAndGlyphs">Y79</text>
<line x1="344.7" y1="417.6" x2="675.4" y2="417.6" stroke="#000" stroke-width="3.2"/>
<line x1="85.8" y1="491.35" x2="85.8" y2="743.95" stroke="#000" stroke-width="2.9"/>
<line x1="78.35" y1="492.8" x2="85.8" y2="492.8" stroke="#000" stroke-width="2.38"/>
<text x="76.15" y="500.09" font-size="21.2" text-anchor="end" textLength="34.8" lengthAdjust="spacingAndGlyphs">200</text>
<line x1="78.35" y1="555.2" x2="85.8" y2="555.2" stroke="#000" stroke-width="2.38"/>
<text x="76.15" y="562.49" font-size="21.2" text-anchor="end" textLength="34.8" lengthAdjust="spacingAndGlyphs">150</text>
<line x1="78.35" y1="617.7" x2="85.8" y2="617.7" stroke="#000" stroke-width="2.38"/>
<text x="76.15" y="624.99" font-size="21.2" text-anchor="end" textLength="34.8" lengthAdjust="spacingAndGlyphs">100</text>
<line x1="78.35" y1="680.1" x2="85.8" y2="680.1" stroke="#000" stroke-width="2.38"/>
<text x="76.15" y="687.39" font-size="21.2" text-anchor="end" textLength="23" lengthAdjust="spacingAndGlyphs">50</text>
<line x1="78.35" y1="742.5" x2="85.8" y2="742.5" stroke="#000" stroke-width="2.38"/>
<text x="76.15" y="749.79" font-size="21.2" text-anchor="end" textLength="11.3" lengthAdjust="spacingAndGlyphs">0</text>
<line x1="84.35" y1="742.5" x2="460.4" y2="742.5" stroke="#000" stroke-width="2.61"/>
<line x1="85.9" y1="742.5" x2="85.9" y2="749.95" stroke="#000" stroke-width="2.9"/>
<line x1="179.35" y1="742.5" x2="179.35" y2="749.95" stroke="#000" stroke-width="2.9"/>
<line x1="272.8" y1="742.5" x2="272.8" y2="749.95" stroke="#000" stroke-width="2.9"/>
<line x1="366.25" y1="742.5" x2="366.25" y2="749.95" stroke="#000" stroke-width="2.9"/>
<line x1="459.7" y1="742.5" x2="459.7" y2="749.95" stroke="#000" stroke-width="2.9"/>
<text x="85.9" y="772" font-size="21.3" text-anchor="middle" textLength="11.6" lengthAdjust="spacingAndGlyphs">0</text>
<text x="179.35" y="772" font-size="21.3" text-anchor="middle" textLength="23.4" lengthAdjust="spacingAndGlyphs">20</text>
<text x="272.8" y="772" font-size="21.3" text-anchor="middle" textLength="23.4" lengthAdjust="spacingAndGlyphs">40</text>
<text x="366.25" y="772" font-size="21.3" text-anchor="middle" textLength="23.4" lengthAdjust="spacingAndGlyphs">60</text>
<text x="459.7" y="772" font-size="21.3" text-anchor="middle" textLength="23.4" lengthAdjust="spacingAndGlyphs">80</text>
<text x="272.6" y="805.1" font-size="23" text-anchor="middle" textLength="120.5" lengthAdjust="spacingAndGlyphs">Time (min)</text>
<text x="30" y="615.8" font-size="25" text-anchor="middle" textLength="184" lengthAdjust="spacingAndGlyphs" transform="rotate(-90 30 615.8)">ECAR(mPH/min)</text>
<line x1="62.5" y1="426.1" x2="88.8" y2="426.1" stroke="#c7c300" stroke-width="2.3"/>
<circle cx="75.65" cy="426.1" r="3.7" fill="#c7c300"/>
<text x="105" y="432.48" font-size="16.6" textLength="51" lengthAdjust="spacing" class="lg">Lv-NC</text>
<line x1="62.5" y1="441.3" x2="88.8" y2="441.3" stroke="#0a8099" stroke-width="2.3"/>
<rect x="72.25" y="437.9" width="6.8" height="6.8" fill="#0a8099"/>
<text x="105" y="447.68" font-size="16.6" textLength="117" lengthAdjust="spacing" class="lg">Lv-LINC00202</text>
<line x1="62.5" y1="457.5" x2="88.8" y2="457.5" stroke="#c46100" stroke-width="2.3"/>
<path d="M75.65 453.5L79.35 460.7L71.95 460.7Z" fill="#c46100"/>
<text x="105" y="463.88" font-size="16.6" textLength="190" lengthAdjust="spacing" class="lg">Lv-LINC00202+miR-NC</text>
<line x1="62.5" y1="473.6" x2="88.8" y2="473.6" stroke="#008200" stroke-width="2.3"/>
<path d="M75.65 477.6L79.35 470.4L71.95 470.4Z" fill="#008200"/>
<text x="105" y="479.98" font-size="16.6" textLength="222.5" lengthAdjust="spacing" class="lg">Lv-LINC00202+miR-204-5p</text>
<path d="M113.94 700.05V720.03M110.44 700.05H117.44M110.44 720.03H117.44" fill="none" stroke="#008200" stroke-width="2"/>
<path d="M141.97 698.18V713.16M138.47 698.18H145.47M138.47 713.16H145.47" fill="none" stroke="#008200" stroke-width="2"/>
<path d="M170 695.43V712.91M166.5 695.43H173.5M166.5 712.91H173.5" fill="none" stroke="#008200" stroke-width="2"/>
<path d="M198.04 674.08V689.06M194.54 674.08H201.54M194.54 689.06H201.54" fill="none" stroke="#008200" stroke-width="2"/>
<path d="M226.08 665.47V677.95M222.58 665.47H229.58M222.58 677.95H229.58" fill="none" stroke="#008200" stroke-width="2"/>
<path d="M254.11 668.46V678.45M250.61 668.46H257.61M250.61 678.45H257.61" fill="none" stroke="#008200" stroke-width="2"/>
<path d="M282.14 598.05V610.53M278.64 598.05H285.64M278.64 610.53H285.64" fill="none" stroke="#008200" stroke-width="2"/>
<path d="M310.18 593.68V598.67M306.68 593.68H313.68M306.68 598.67H313.68" fill="none" stroke="#008200" stroke-width="2"/>
<path d="M338.22 592.68V612.66M334.72 592.68H341.72M334.72 612.66H341.72" fill="none" stroke="#008200" stroke-width="2"/>
<path d="M366.25 709.04V716.53M362.75 709.04H369.75M362.75 716.53H369.75" fill="none" stroke="#008200" stroke-width="2"/>
<path d="M394.29 710.16V717.65M390.79 710.16H397.79M390.79 717.65H397.79" fill="none" stroke="#008200" stroke-width="2"/>
<path d="M422.32 704.92V717.41M418.82 704.92H425.82M418.82 717.41H425.82" fill="none" stroke="#008200" stroke-width="2"/>
<polyline points="113.94,710.04 141.97,705.67 170,704.17 198.04,681.57 226.08,671.71 254.11,673.46 282.14,604.29 310.18,596.18 338.22,602.67 366.25,712.79 394.29,713.91 422.32,711.16" fill="none" stroke="#008200" stroke-width="2.3" stroke-linejoin="round"/>
<path d="M113.94 714.14L117.73 706.74L110.14 706.74Z" fill="#008200"/>
<path d="M141.97 709.77L145.77 702.37L138.17 702.37Z" fill="#008200"/>
<path d="M170 708.27L173.81 700.87L166.2 700.87Z" fill="#008200"/>
<path d="M198.04 685.67L201.84 678.27L194.24 678.27Z" fill="#008200"/>
<path d="M226.08 675.81L229.88 668.41L222.28 668.41Z" fill="#008200"/>
<path d="M254.11 677.56L257.91 670.16L250.31 670.16Z" fill="#008200"/>
<path d="M282.14 608.39L285.94 600.99L278.34 600.99Z" fill="#008200"/>
<path d="M310.18 600.28L313.98 592.88L306.38 592.88Z" fill="#008200"/>
<path d="M338.22 606.77L342.02 599.37L334.42 599.37Z" fill="#008200"/>
<path d="M366.25 716.89L370.05 709.49L362.45 709.49Z" fill="#008200"/>
<path d="M394.29 718.01L398.09 710.61L390.49 710.61Z" fill="#008200"/>
<path d="M422.32 715.26L426.12 707.86L418.52 707.86Z" fill="#008200"/>
<path d="M113.94 693.93V706.42M110.44 693.93H117.44M110.44 706.42H117.44" fill="none" stroke="#c46100" stroke-width="2"/>
<path d="M141.97 690.56V705.54M138.47 690.56H145.47M138.47 705.54H145.47" fill="none" stroke="#c46100" stroke-width="2"/>
<path d="M170 690.69V703.17M166.5 690.69H173.5M166.5 703.17H173.5" fill="none" stroke="#c46100" stroke-width="2"/>
<path d="M198.04 649.11V669.09M194.54 649.11H201.54M194.54 669.09H201.54" fill="none" stroke="#c46100" stroke-width="2"/>
<path d="M226.08 654.11V674.08M222.58 654.11H229.58M222.58 674.08H229.58" fill="none" stroke="#c46100" stroke-width="2"/>
<path d="M254.11 656.35V676.33M250.61 656.35H257.61M250.61 676.33H257.61" fill="none" stroke="#c46100" stroke-width="2"/>
<path d="M282.14 548.48V565.96M278.64 548.48H285.64M278.64 565.96H285.64" fill="none" stroke="#c46100" stroke-width="2"/>
<path d="M310.18 549.11V566.59M306.68 549.11H313.68M306.68 566.59H313.68" fill="none" stroke="#c46100" stroke-width="2"/>
<path d="M338.22 546.24V563.71M334.72 546.24H341.72M334.72 563.71H341.72" fill="none" stroke="#c46100" stroke-width="2"/>
<path d="M366.25 698.43V712.16M362.75 698.43H369.75M362.75 712.16H369.75" fill="none" stroke="#c46100" stroke-width="2"/>
<path d="M394.29 696.56V715.28M390.79 696.56H397.79M390.79 715.28H397.79" fill="none" stroke="#c46100" stroke-width="2"/>
<path d="M422.32 698.68V711.16M418.82 698.68H425.82M418.82 711.16H425.82" fill="none" stroke="#c46100" stroke-width="2"/>
<polyline points="113.94,700.18 141.97,698.05 170,696.93 198.04,659.1 226.08,664.09 254.11,666.34 282.14,557.22 310.18,557.85 338.22,554.98 366.25,705.29 394.29,705.92 422.32,704.92" fill="none" stroke="#c46100" stroke-width="2.3" stroke-linejoin="round"/>
<path d="M113.94 696.08L117.73 703.48L110.14 703.48Z" fill="#c46100"/>
<path d="M141.97 693.95L145.77 701.35L138.17 701.35Z" fill="#c46100"/>
<path d="M170 692.83L173.81 700.23L166.2 700.23Z" fill="#c46100"/>
<path d="M198.04 655L201.84 662.4L194.24 662.4Z" fill="#c46100"/>
<path d="M226.08 659.99L229.88 667.39L222.28 667.39Z" fill="#c46100"/>
<path d="M254.11 662.24L257.91 669.64L250.31 669.64Z" fill="#c46100"/>
<path d="M282.14 553.12L285.94 560.52L278.34 560.52Z" fill="#c46100"/>
<path d="M310.18 553.75L313.98 561.15L306.38 561.15Z" fill="#c46100"/>
<path d="M338.22 550.88L342.02 558.28L334.42 558.28Z" fill="#c46100"/>
<path d="M366.25 701.19L370.05 708.59L362.45 708.59Z" fill="#c46100"/>
<path d="M394.29 701.82L398.09 709.22L390.49 709.22Z" fill="#c46100"/>
<path d="M422.32 700.82L426.12 708.22L418.52 708.22Z" fill="#c46100"/>
<path d="M113.94 689.44V704.42M110.44 689.44H117.44M110.44 704.42H117.44" fill="none" stroke="#0a8099" stroke-width="2"/>
<path d="M141.97 693.68V703.67M138.47 693.68H145.47M138.47 703.67H145.47" fill="none" stroke="#0a8099" stroke-width="2"/>
<path d="M170 689.44V704.42M166.5 689.44H173.5M166.5 704.42H173.5" fill="none" stroke="#0a8099" stroke-width="2"/>
<path d="M198.04 651.73V674.21M194.54 651.73H201.54M194.54 674.21H201.54" fill="none" stroke="#0a8099" stroke-width="2"/>
<path d="M226.08 651.86V670.59M222.58 651.86H229.58M222.58 670.59H229.58" fill="none" stroke="#0a8099" stroke-width="2"/>
<path d="M254.11 653.73V668.71M250.61 653.73H257.61M250.61 668.71H257.61" fill="none" stroke="#0a8099" stroke-width="2"/>
<path d="M282.14 547.73V570.21M278.64 547.73H285.64M278.64 570.21H285.64" fill="none" stroke="#0a8099" stroke-width="2"/>
<path d="M310.18 548.73V574.95M306.68 548.73H313.68M306.68 574.95H313.68" fill="none" stroke="#0a8099" stroke-width="2"/>
<path d="M338.22 550.23V567.71M334.72 550.23H341.72M334.72 567.71H341.72" fill="none" stroke="#0a8099" stroke-width="2"/>
<path d="M366.25 704.42V714.41M362.75 704.42H369.75M362.75 714.41H369.75" fill="none" stroke="#0a8099" stroke-width="2"/>
<path d="M394.29 705.67V713.16M390.79 705.67H397.79M390.79 713.16H397.79" fill="none" stroke="#0a8099" stroke-width="2"/>
<path d="M422.32 701.92V711.91M418.82 701.92H425.82M418.82 711.91H425.82" fill="none" stroke="#0a8099" stroke-width="2"/>
<polyline points="113.94,696.93 141.97,698.68 170,696.93 198.04,662.97 226.08,661.22 254.11,661.22 282.14,558.97 310.18,561.84 338.22,558.97 366.25,709.41 394.29,709.41 422.32,706.92" fill="none" stroke="#0a8099" stroke-width="2.3" stroke-linejoin="round"/>
<rect x="110.44" y="693.43" width="7" height="7" fill="#0a8099"/>
<rect x="138.47" y="695.18" width="7" height="7" fill="#0a8099"/>
<rect x="166.5" y="693.43" width="7" height="7" fill="#0a8099"/>
<rect x="194.54" y="659.47" width="7" height="7" fill="#0a8099"/>
<rect x="222.58" y="657.72" width="7" height="7" fill="#0a8099"/>
<rect x="250.61" y="657.72" width="7" height="7" fill="#0a8099"/>
<rect x="278.64" y="555.47" width="7" height="7" fill="#0a8099"/>
<rect x="306.68" y="558.34" width="7" height="7" fill="#0a8099"/>
<rect x="334.72" y="555.47" width="7" height="7" fill="#0a8099"/>
<rect x="362.75" y="705.91" width="7" height="7" fill="#0a8099"/>
<rect x="390.79" y="705.91" width="7" height="7" fill="#0a8099"/>
<rect x="418.82" y="703.42" width="7" height="7" fill="#0a8099"/>
<path d="M113.94 705.67V716.66M110.44 705.67H117.44M110.44 716.66H117.44" fill="none" stroke="#c7c300" stroke-width="2"/>
<path d="M141.97 702.8V715.28M138.47 702.8H145.47M138.47 715.28H145.47" fill="none" stroke="#c7c300" stroke-width="2"/>
<path d="M170 701.67V714.16M166.5 701.67H173.5M166.5 714.16H173.5" fill="none" stroke="#c7c300" stroke-width="2"/>
<path d="M198.04 674.71V697.18M194.54 674.71H201.54M194.54 697.18H201.54" fill="none" stroke="#c7c300" stroke-width="2"/>
<path d="M226.08 676.08V688.56M222.58 676.08H229.58M222.58 688.56H229.58" fill="none" stroke="#c7c300" stroke-width="2"/>
<path d="M254.11 678.08V683.07M250.61 678.08H257.61M250.61 683.07H257.61" fill="none" stroke="#c7c300" stroke-width="2"/>
<path d="M282.14 611.03V618.52M278.64 611.03H285.64M278.64 618.52H285.64" fill="none" stroke="#c7c300" stroke-width="2"/>
<path d="M310.18 613.65V621.15M306.68 613.65H313.68M306.68 621.15H313.68" fill="none" stroke="#c7c300" stroke-width="2"/>
<path d="M338.22 603.42V619.65M334.72 603.42H341.72M334.72 619.65H341.72" fill="none" stroke="#c7c300" stroke-width="2"/>
<path d="M366.25 713.53V721.03M362.75 713.53H369.75M362.75 721.03H369.75" fill="none" stroke="#c7c300" stroke-width="2"/>
<path d="M394.29 714.41V723.15M390.79 714.41H397.79M390.79 723.15H397.79" fill="none" stroke="#c7c300" stroke-width="2"/>
<path d="M422.32 710.29V720.28M418.82 710.29H425.82M418.82 720.28H425.82" fill="none" stroke="#c7c300" stroke-width="2"/>
<polyline points="113.94,711.16 141.97,709.04 170,707.92 198.04,685.94 226.08,682.32 254.11,680.57 282.14,614.78 310.18,617.4 338.22,611.53 366.25,717.28 394.29,718.78 422.32,715.28" fill="none" stroke="#c7c300" stroke-width="2.3" stroke-linejoin="round"/>
<circle cx="113.94" cy="711.16" r="3.8" fill="#c7c300"/>
<circle cx="141.97" cy="709.04" r="3.8" fill="#c7c300"/>
<circle cx="170" cy="707.92" r="3.8" fill="#c7c300"/>
<circle cx="198.04" cy="685.94" r="3.8" fill="#c7c300"/>
<circle cx="226.08" cy="682.32" r="3.8" fill="#c7c300"/>
<circle cx="254.11" cy="680.57" r="3.8" fill="#c7c300"/>
<circle cx="282.14" cy="614.78" r="3.8" fill="#c7c300"/>
<circle cx="310.18" cy="617.4" r="3.8" fill="#c7c300"/>
<circle cx="338.22" cy="611.53" r="3.8" fill="#c7c300"/>
<circle cx="366.25" cy="717.28" r="3.8" fill="#c7c300"/>
<circle cx="394.29" cy="718.78" r="3.8" fill="#c7c300"/>
<circle cx="422.32" cy="715.28" r="3.8" fill="#c7c300"/>
<line x1="171" y1="621.1" x2="171" y2="665.9" stroke="#000" stroke-width="2.3"/>
<path d="M163.8 664.9L178.2 664.9L171 681.3Z" fill="#000"/>
<line x1="252.7" y1="578.4" x2="252.7" y2="623.8" stroke="#000" stroke-width="2.3"/>
<path d="M245.5 622.8L259.9 622.8L252.7 639.3Z" fill="#000"/>
<line x1="338.5" y1="479.9" x2="338.5" y2="524.6" stroke="#000" stroke-width="2.3"/>
<path d="M331.3 523.6L345.7 523.6L338.5 541.2Z" fill="#000"/>
<text x="92.8" y="653.5" font-size="15.6" textLength="72.5" lengthAdjust="spacing">Glucose</text>
<text x="217.2" y="609.7" font-size="15.6" textLength="29.5" lengthAdjust="spacing">OM</text>
<text x="347.3" y="512.7" font-size="15.6" textLength="43.5" lengthAdjust="spacing">2-DG</text>
<line x1="571.4" y1="489.5" x2="571.4" y2="742.6" stroke="#000" stroke-width="2.8"/>
<line x1="564" y1="490.9" x2="571.4" y2="490.9" stroke="#000" stroke-width="2.3"/>
<text x="561.5" y="498.19" font-size="21.2" text-anchor="end" textLength="34.5" lengthAdjust="spacingAndGlyphs">150</text>
<line x1="564" y1="574.3" x2="571.4" y2="574.3" stroke="#000" stroke-width="2.3"/>
<text x="561.5" y="581.59" font-size="21.2" text-anchor="end" textLength="34.5" lengthAdjust="spacingAndGlyphs">100</text>
<line x1="564" y1="657.7" x2="571.4" y2="657.7" stroke="#000" stroke-width="2.3"/>
<text x="561.5" y="664.99" font-size="21.2" text-anchor="end" textLength="23" lengthAdjust="spacingAndGlyphs">50</text>
<line x1="564" y1="741.2" x2="571.4" y2="741.2" stroke="#000" stroke-width="2.3"/>
<text x="561.5" y="748.49" font-size="21.2" text-anchor="end" textLength="11.3" lengthAdjust="spacingAndGlyphs">0</text>
<line x1="570" y1="741.2" x2="945" y2="741.2" stroke="#000" stroke-width="2.52"/>
<line x1="630.1" y1="741.2" x2="630.1" y2="748.6" stroke="#000" stroke-width="2.8"/>
<line x1="756.9" y1="741.2" x2="756.9" y2="748.6" stroke="#000" stroke-width="2.8"/>
<line x1="884.1" y1="741.2" x2="884.1" y2="748.6" stroke="#000" stroke-width="2.8"/>
<text x="514.8" y="615.5" font-size="25.4" text-anchor="middle" textLength="184" lengthAdjust="spacingAndGlyphs" transform="rotate(-90 514.8 615.5)">ECAR(mPH/min)</text>
<rect x="587.67" y="427.84" width="26.4" height="9.4" fill="#c7c300" stroke="#000" stroke-width="2.2"/>
<text x="629.41" y="438.32" font-size="16.6" textLength="51" lengthAdjust="spacing" class="lg">Lv-NC</text>
<rect x="587.67" y="448.69" width="26.4" height="9.4" fill="#0a8099" stroke="#000" stroke-width="2.2"/>
<text x="629.41" y="459.17" font-size="16.6" textLength="117" lengthAdjust="spacing" class="lg">Lv-LINC00202</text>
<rect x="587.67" y="468.84" width="26.4" height="9.4" fill="#c46100" stroke="#000" stroke-width="2.2"/>
<text x="629.41" y="479.32" font-size="16.6" textLength="190" lengthAdjust="spacing" class="lg">Lv-LINC00202+miR-NC</text>
<rect x="587.67" y="489.34" width="26.4" height="9.4" fill="#008200" stroke="#000" stroke-width="2.2"/>
<text x="629.41" y="499.82" font-size="16.6" textLength="222.5" lengthAdjust="spacing" class="lg">Lv-LINC00202+miR-204-5p</text>
<line x1="589.67" y1="689.57" x2="589.67" y2="695.97" stroke="#000" stroke-width="2.4"/>
<line x1="585.42" y1="689.57" x2="593.92" y2="689.57" stroke="#000" stroke-width="2.4"/>
<rect x="581.27" y="696.17" width="16.8" height="45.03" fill="#c7c300" stroke="#000" stroke-width="2.4"/>
<line x1="617.12" y1="667.68" x2="617.12" y2="676.17" stroke="#000" stroke-width="2.4"/>
<line x1="612.87" y1="667.68" x2="621.37" y2="667.68" stroke="#000" stroke-width="2.4"/>
<rect x="608.72" y="676.37" width="16.8" height="64.83" fill="#0a8099" stroke="#000" stroke-width="2.4"/>
<line x1="644.22" y1="682.27" x2="644.22" y2="685.2" stroke="#000" stroke-width="2.4"/>
<line x1="639.97" y1="682.27" x2="648.47" y2="682.27" stroke="#000" stroke-width="2.4"/>
<rect x="635.82" y="685.4" width="16.8" height="55.8" fill="#c46100" stroke="#000" stroke-width="2.4"/>
<line x1="671.32" y1="691.66" x2="671.32" y2="692.5" stroke="#000" stroke-width="2.4"/>
<line x1="667.07" y1="691.66" x2="675.57" y2="691.66" stroke="#000" stroke-width="2.4"/>
<rect x="662.92" y="692.7" width="16.8" height="48.5" fill="#008200" stroke="#000" stroke-width="2.4"/>
<line x1="717.19" y1="599.93" x2="717.19" y2="604.24" stroke="#000" stroke-width="2.4"/>
<line x1="712.94" y1="599.93" x2="721.44" y2="599.93" stroke="#000" stroke-width="2.4"/>
<rect x="708.79" y="604.44" width="16.8" height="136.76" fill="#c7c300" stroke="#000" stroke-width="2.4"/>
<line x1="744.29" y1="538.08" x2="744.29" y2="540.31" stroke="#000" stroke-width="2.4"/>
<line x1="740.04" y1="538.08" x2="748.54" y2="538.08" stroke="#000" stroke-width="2.4"/>
<rect x="735.89" y="540.51" width="16.8" height="200.69" fill="#0a8099" stroke="#000" stroke-width="2.4"/>
<line x1="771.39" y1="532.87" x2="771.39" y2="542.39" stroke="#000" stroke-width="2.4"/>
<line x1="767.14" y1="532.87" x2="775.64" y2="532.87" stroke="#000" stroke-width="2.4"/>
<rect x="762.99" y="542.59" width="16.8" height="198.61" fill="#c46100" stroke="#000" stroke-width="2.4"/>
<line x1="798.84" y1="591.93" x2="798.84" y2="593.12" stroke="#000" stroke-width="2.4"/>
<line x1="794.59" y1="591.93" x2="803.09" y2="591.93" stroke="#000" stroke-width="2.4"/>
<rect x="790.44" y="593.32" width="16.8" height="147.88" fill="#008200" stroke="#000" stroke-width="2.4"/>
<line x1="844.01" y1="638.15" x2="844.01" y2="649.07" stroke="#000" stroke-width="2.4"/>
<line x1="839.76" y1="638.15" x2="848.26" y2="638.15" stroke="#000" stroke-width="2.4"/>
<rect x="835.61" y="649.27" width="16.8" height="91.93" fill="#c7c300" stroke="#000" stroke-width="2.4"/>
<line x1="871.11" y1="599.93" x2="871.11" y2="605.29" stroke="#000" stroke-width="2.4"/>
<line x1="866.86" y1="599.93" x2="875.36" y2="599.93" stroke="#000" stroke-width="2.4"/>
<rect x="862.71" y="605.49" width="16.8" height="135.71" fill="#0a8099" stroke="#000" stroke-width="2.4"/>
<line x1="898.22" y1="590.89" x2="898.22" y2="597.99" stroke="#000" stroke-width="2.4"/>
<line x1="893.97" y1="590.89" x2="902.47" y2="590.89" stroke="#000" stroke-width="2.4"/>
<rect x="889.82" y="598.19" width="16.8" height="143.01" fill="#c46100" stroke="#000" stroke-width="2.4"/>
<line x1="925.67" y1="640.58" x2="925.67" y2="641.77" stroke="#000" stroke-width="2.4"/>
<line x1="921.42" y1="640.58" x2="929.92" y2="640.58" stroke="#000" stroke-width="2.4"/>
<rect x="917.27" y="641.97" width="16.8" height="99.23" fill="#008200" stroke="#000" stroke-width="2.4"/>
<line x1="591.19" y1="660.48" x2="617.94" y2="660.48" stroke="#000" stroke-width="2.4"/>
<text x="595.71" y="663.4" font-size="25" text-anchor="middle" textLength="10.8" lengthAdjust="spacingAndGlyphs">*</text>
<text x="608.91" y="663.4" font-size="25" text-anchor="middle" textLength="10.8" lengthAdjust="spacingAndGlyphs">*</text>
<line x1="642.61" y1="673.68" x2="669.37" y2="673.68" stroke="#000" stroke-width="2.4"/>
<text x="655.47" y="676.61" font-size="25" text-anchor="middle" textLength="10.8" lengthAdjust="spacingAndGlyphs">*</text>
<line x1="718.01" y1="530.88" x2="744.77" y2="530.88" stroke="#000" stroke-width="2.4"/>
<text x="716.97" y="533.8" font-size="25" text-anchor="middle" textLength="10.8" lengthAdjust="spacingAndGlyphs">*</text>
<text x="730.17" y="533.8" font-size="25" text-anchor="middle" textLength="10.8" lengthAdjust="spacingAndGlyphs">*</text>
<text x="743.37" y="533.8" font-size="25" text-anchor="middle" textLength="10.8" lengthAdjust="spacingAndGlyphs">*</text>
<line x1="769.44" y1="526.01" x2="796.19" y2="526.01" stroke="#000" stroke-width="2.4"/>
<text x="769.09" y="528.94" font-size="25" text-anchor="middle" textLength="10.8" lengthAdjust="spacingAndGlyphs">*</text>
<text x="782.29" y="528.94" font-size="25" text-anchor="middle" textLength="10.8" lengthAdjust="spacingAndGlyphs">*</text>
<text x="795.49" y="528.94" font-size="25" text-anchor="middle" textLength="10.8" lengthAdjust="spacingAndGlyphs">*</text>
<line x1="843.79" y1="591.68" x2="870.9" y2="591.68" stroke="#000" stroke-width="2.4"/>
<text x="843.8" y="594.61" font-size="25" text-anchor="middle" textLength="10.8" lengthAdjust="spacingAndGlyphs">*</text>
<text x="857" y="594.61" font-size="25" text-anchor="middle" textLength="10.8" lengthAdjust="spacingAndGlyphs">*</text>
<text x="870.2" y="594.61" font-size="25" text-anchor="middle" textLength="10.8" lengthAdjust="spacingAndGlyphs">*</text>
<line x1="898" y1="584.73" x2="924.75" y2="584.73" stroke="#000" stroke-width="2.4"/>
<text x="897.65" y="587.66" font-size="25" text-anchor="middle" textLength="10.8" lengthAdjust="spacingAndGlyphs">*</text>
<text x="910.85" y="587.66" font-size="25" text-anchor="middle" textLength="10.8" lengthAdjust="spacingAndGlyphs">*</text>
<text x="924.05" y="587.66" font-size="25" text-anchor="middle" textLength="10.8" lengthAdjust="spacingAndGlyphs">*</text>
<text x="630.1" y="769.6" font-size="20.4" text-anchor="middle" textLength="103" lengthAdjust="spacingAndGlyphs">Glycolysis</text>
<text x="754.5" y="769.6" font-size="20.4" text-anchor="middle" textLength="99" lengthAdjust="spacingAndGlyphs">Glycolytic</text>
<text x="756.6" y="794" font-size="20.4" text-anchor="middle" textLength="83" lengthAdjust="spacingAndGlyphs">capacity</text>
<text x="881" y="769.6" font-size="20.4" text-anchor="middle" textLength="99" lengthAdjust="spacingAndGlyphs">Glycolytic</text>
<text x="884.1" y="794" font-size="20.4" text-anchor="middle" textLength="74" lengthAdjust="spacingAndGlyphs">reverse</text>
<text x="1498" y="409.5" font-size="23.8" text-anchor="middle" textLength="128.8" lengthAdjust="spacingAndGlyphs">HXO-RB44</text>
<line x1="1314.4" y1="417.6" x2="1645.1" y2="417.6" stroke="#000" stroke-width="3.2"/>
<line x1="1116.8" y1="491.35" x2="1116.8" y2="743.95" stroke="#000" stroke-width="2.9"/>
<line x1="1109.35" y1="492.8" x2="1116.8" y2="492.8" stroke="#000" stroke-width="2.38"/>
<text x="1107.15" y="500.09" font-size="21.2" text-anchor="end" textLength="34.8" lengthAdjust="spacingAndGlyphs">200</text>
<line x1="1109.35" y1="555.2" x2="1116.8" y2="555.2" stroke="#000" stroke-width="2.38"/>
<text x="1107.15" y="562.49" font-size="21.2" text-anchor="end" textLength="34.8" lengthAdjust="spacingAndGlyphs">150</text>
<line x1="1109.35" y1="617.7" x2="1116.8" y2="617.7" stroke="#000" stroke-width="2.38"/>
<text x="1107.15" y="624.99" font-size="21.2" text-anchor="end" textLength="34.8" lengthAdjust="spacingAndGlyphs">100</text>
<line x1="1109.35" y1="680.1" x2="1116.8" y2="680.1" stroke="#000" stroke-width="2.38"/>
<text x="1107.15" y="687.39" font-size="21.2" text-anchor="end" textLength="23" lengthAdjust="spacingAndGlyphs">50</text>
<line x1="1109.35" y1="742.5" x2="1116.8" y2="742.5" stroke="#000" stroke-width="2.38"/>
<text x="1107.15" y="749.79" font-size="21.2" text-anchor="end" textLength="11.3" lengthAdjust="spacingAndGlyphs">0</text>
<line x1="1115.35" y1="742.5" x2="1491.5" y2="742.5" stroke="#000" stroke-width="2.61"/>
<line x1="1116.8" y1="742.5" x2="1116.8" y2="749.95" stroke="#000" stroke-width="2.9"/>
<line x1="1210.3" y1="742.5" x2="1210.3" y2="749.95" stroke="#000" stroke-width="2.9"/>
<line x1="1303.8" y1="742.5" x2="1303.8" y2="749.95" stroke="#000" stroke-width="2.9"/>
<line x1="1397.3" y1="742.5" x2="1397.3" y2="749.95" stroke="#000" stroke-width="2.9"/>
<line x1="1490.8" y1="742.5" x2="1490.8" y2="749.95" stroke="#000" stroke-width="2.9"/>
<text x="1116.8" y="772" font-size="21.3" text-anchor="middle" textLength="11.6" lengthAdjust="spacingAndGlyphs">0</text>
<text x="1210.3" y="772" font-size="21.3" text-anchor="middle" textLength="23.4" lengthAdjust="spacingAndGlyphs">20</text>
<text x="1303.8" y="772" font-size="21.3" text-anchor="middle" textLength="23.4" lengthAdjust="spacingAndGlyphs">40</text>
<text x="1397.3" y="772" font-size="21.3" text-anchor="middle" textLength="23.4" lengthAdjust="spacingAndGlyphs">60</text>
<text x="1490.8" y="772" font-size="21.3" text-anchor="middle" textLength="23.4" lengthAdjust="spacingAndGlyphs">80</text>
<text x="1303.8" y="805.1" font-size="23" text-anchor="middle" textLength="120.5" lengthAdjust="spacingAndGlyphs">Time (min)</text>
<text x="1061.3" y="615.8" font-size="25" text-anchor="middle" textLength="184" lengthAdjust="spacingAndGlyphs" transform="rotate(-90 1061.3 615.8)">ECAR(mPH/min)</text>
<line x1="1105.3" y1="434.3" x2="1132" y2="434.3" stroke="#c7c300" stroke-width="2.3"/>
<circle cx="1118.65" cy="434.3" r="3.7" fill="#c7c300"/>
<text x="1146.6" y="440.68" font-size="16.6" textLength="51" lengthAdjust="spacing" class="lg">Lv-NC</text>
<line x1="1105.3" y1="450.6" x2="1132" y2="450.6" stroke="#0a8099" stroke-width="2.3"/>
<path d="M1118.65 446.6L1122.35 453.8L1114.95 453.8Z" fill="#0a8099"/>
<text x="1146.6" y="456.98" font-size="16.6" textLength="117" lengthAdjust="spacing" class="lg">Lv-LINC00202</text>
<line x1="1105.3" y1="466.6" x2="1132" y2="466.6" stroke="#c46100" stroke-width="2.3"/>
<path d="M1118.65 462.6L1122.35 469.8L1114.95 469.8Z" fill="#c46100"/>
<text x="1146.6" y="472.98" font-size="16.6" textLength="190" lengthAdjust="spacing" class="lg">Lv-LINC00202+miR-NC</text>
<line x1="1105.3" y1="481.9" x2="1132" y2="481.9" stroke="#008200" stroke-width="2.3"/>
<path d="M1118.65 485.9L1122.35 478.7L1114.95 478.7Z" fill="#008200"/>
<text x="1146.6" y="488.28" font-size="16.6" textLength="222.5" lengthAdjust="spacing" class="lg">Lv-LINC00202+miR-204-5p</text>
<path d="M1144.85 695.68V705.67M1141.35 695.68H1148.35M1141.35 705.67H1148.35" fill="none" stroke="#008200" stroke-width="2"/>
<path d="M1172.9 688.81V713.78M1169.4 688.81H1176.4M1169.4 713.78H1176.4" fill="none" stroke="#008200" stroke-width="2"/>
<path d="M1200.95 692.44V712.41M1197.45 692.44H1204.45M1197.45 712.41H1204.45" fill="none" stroke="#008200" stroke-width="2"/>
<path d="M1229 658.1V668.09M1225.5 658.1H1232.5M1225.5 668.09H1232.5" fill="none" stroke="#008200" stroke-width="2"/>
<path d="M1257.05 655.85V665.84M1253.55 655.85H1260.55M1253.55 665.84H1260.55" fill="none" stroke="#008200" stroke-width="2"/>
<path d="M1285.1 654.48V661.97M1281.6 654.48H1288.6M1281.6 661.97H1288.6" fill="none" stroke="#008200" stroke-width="2"/>
<path d="M1313.15 605.41V610.41M1309.65 605.41H1316.65M1309.65 610.41H1316.65" fill="none" stroke="#008200" stroke-width="2"/>
<path d="M1341.2 603.42V613.41M1337.7 603.42H1344.7M1337.7 613.41H1344.7" fill="none" stroke="#008200" stroke-width="2"/>
<path d="M1369.25 600.42V612.91M1365.75 600.42H1372.75M1365.75 612.91H1372.75" fill="none" stroke="#008200" stroke-width="2"/>
<path d="M1397.3 711.29V718.78M1393.8 711.29H1400.8M1393.8 718.78H1400.8" fill="none" stroke="#008200" stroke-width="2"/>
<path d="M1425.35 711.29V718.78M1421.85 711.29H1428.85M1421.85 718.78H1428.85" fill="none" stroke="#008200" stroke-width="2"/>
<path d="M1453.4 708.79V721.28M1449.9 708.79H1456.9M1449.9 721.28H1456.9" fill="none" stroke="#008200" stroke-width="2"/>
<polyline points="1144.85,700.68 1172.9,701.3 1200.95,702.42 1229,663.1 1257.05,660.85 1285.1,658.23 1313.15,607.91 1341.2,608.41 1369.25,606.66 1397.3,715.03 1425.35,715.03 1453.4,715.03" fill="none" stroke="#008200" stroke-width="2.3" stroke-linejoin="round"/>
<path d="M1144.85 704.78L1148.65 697.38L1141.05 697.38Z" fill="#008200"/>
<path d="M1172.9 705.4L1176.7 698L1169.1 698Z" fill="#008200"/>
<path d="M1200.95 706.52L1204.75 699.12L1197.15 699.12Z" fill="#008200"/>
<path d="M1229 667.2L1232.8 659.8L1225.2 659.8Z" fill="#008200"/>
<path d="M1257.05 664.95L1260.85 657.55L1253.25 657.55Z" fill="#008200"/>
<path d="M1285.1 662.33L1288.9 654.93L1281.3 654.93Z" fill="#008200"/>
<path d="M1313.15 612.01L1316.95 604.61L1309.35 604.61Z" fill="#008200"/>
<path d="M1341.2 612.51L1345 605.11L1337.4 605.11Z" fill="#008200"/>
<path d="M1369.25 610.76L1373.05 603.36L1365.45 603.36Z" fill="#008200"/>
<path d="M1397.3 719.13L1401.1 711.73L1393.5 711.73Z" fill="#008200"/>
<path d="M1425.35 719.13L1429.15 711.73L1421.55 711.73Z" fill="#008200"/>
<path d="M1453.4 719.13L1457.2 711.73L1449.6 711.73Z" fill="#008200"/>
<path d="M1144.85 688.32V698.3M1141.35 688.32H1148.35M1141.35 698.3H1148.35" fill="none" stroke="#c46100" stroke-width="2"/>
<path d="M1172.9 687.32V702.3M1169.4 687.32H1176.4M1169.4 702.3H1176.4" fill="none" stroke="#c46100" stroke-width="2"/>
<path d="M1200.95 685.82V700.8M1197.45 685.82H1204.45M1197.45 700.8H1204.45" fill="none" stroke="#c46100" stroke-width="2"/>
<path d="M1229 644.12V666.59M1225.5 644.12H1232.5M1225.5 666.59H1232.5" fill="none" stroke="#c46100" stroke-width="2"/>
<path d="M1257.05 648.99V663.97M1253.55 648.99H1260.55M1253.55 663.97H1260.55" fill="none" stroke="#c46100" stroke-width="2"/>
<path d="M1285.1 642.62V655.1M1281.6 642.62H1288.6M1281.6 655.1H1288.6" fill="none" stroke="#c46100" stroke-width="2"/>
<path d="M1313.15 566.21V576.2M1309.65 566.21H1316.65M1309.65 576.2H1316.65" fill="none" stroke="#c46100" stroke-width="2"/>
<path d="M1341.2 564.96V577.45M1337.7 564.96H1344.7M1337.7 577.45H1344.7" fill="none" stroke="#c46100" stroke-width="2"/>
<path d="M1369.25 564.21V581.69M1365.75 564.21H1372.75M1365.75 581.69H1372.75" fill="none" stroke="#c46100" stroke-width="2"/>
<path d="M1397.3 713.78V721.28M1393.8 713.78H1400.8M1393.8 721.28H1400.8" fill="none" stroke="#c46100" stroke-width="2"/>
<path d="M1425.35 707.54V726.27M1421.85 707.54H1428.85M1421.85 726.27H1428.85" fill="none" stroke="#c46100" stroke-width="2"/>
<path d="M1453.4 710.66V723.15M1449.9 710.66H1456.9M1449.9 723.15H1456.9" fill="none" stroke="#c46100" stroke-width="2"/>
<polyline points="1144.85,693.31 1172.9,694.81 1200.95,693.31 1229,655.35 1257.05,656.48 1285.1,648.86 1313.15,571.21 1341.2,571.21 1369.25,572.95 1397.3,717.53 1425.35,716.91 1453.4,716.91" fill="none" stroke="#c46100" stroke-width="2.3" stroke-linejoin="round"/>
<path d="M1144.85 689.21L1148.65 696.61L1141.05 696.61Z" fill="#c46100"/>
<path d="M1172.9 690.71L1176.7 698.11L1169.1 698.11Z" fill="#c46100"/>
<path d="M1200.95 689.21L1204.75 696.61L1197.15 696.61Z" fill="#c46100"/>
<path d="M1229 651.25L1232.8 658.65L1225.2 658.65Z" fill="#c46100"/>
<path d="M1257.05 652.38L1260.85 659.78L1253.25 659.78Z" fill="#c46100"/>
<path d="M1285.1 644.76L1288.9 652.16L1281.3 652.16Z" fill="#c46100"/>
<path d="M1313.15 567.11L1316.95 574.51L1309.35 574.51Z" fill="#c46100"/>
<path d="M1341.2 567.11L1345 574.51L1337.4 574.51Z" fill="#c46100"/>
<path d="M1369.25 568.85L1373.05 576.25L1365.45 576.25Z" fill="#c46100"/>
<path d="M1397.3 713.43L1401.1 720.83L1393.5 720.83Z" fill="#c46100"/>
<path d="M1425.35 712.81L1429.15 720.21L1421.55 720.21Z" fill="#c46100"/>
<path d="M1453.4 712.81L1457.2 720.21L1449.6 720.21Z" fill="#c46100"/>
<path d="M1144.85 689.19V699.18M1141.35 689.19H1148.35M1141.35 699.18H1148.35" fill="none" stroke="#0a8099" stroke-width="2"/>
<path d="M1172.9 687.19V704.67M1169.4 687.19H1176.4M1169.4 704.67H1176.4" fill="none" stroke="#0a8099" stroke-width="2"/>
<path d="M1200.95 691.44V703.92M1197.45 691.44H1204.45M1197.45 703.92H1204.45" fill="none" stroke="#0a8099" stroke-width="2"/>
<path d="M1229 647.11V667.09M1225.5 647.11H1232.5M1225.5 667.09H1232.5" fill="none" stroke="#0a8099" stroke-width="2"/>
<path d="M1257.05 644.74V664.72M1253.55 644.74H1260.55M1253.55 664.72H1260.55" fill="none" stroke="#0a8099" stroke-width="2"/>
<path d="M1285.1 647.99V655.48M1281.6 647.99H1288.6M1281.6 655.48H1288.6" fill="none" stroke="#0a8099" stroke-width="2"/>
<path d="M1313.15 566.71V579.2M1309.65 566.71H1316.65M1309.65 579.2H1316.65" fill="none" stroke="#0a8099" stroke-width="2"/>
<path d="M1341.2 560.97V583.44M1337.7 560.97H1344.7M1337.7 583.44H1344.7" fill="none" stroke="#0a8099" stroke-width="2"/>
<path d="M1369.25 557.97V575.45M1365.75 557.97H1372.75M1365.75 575.45H1372.75" fill="none" stroke="#0a8099" stroke-width="2"/>
<path d="M1397.3 713.78V721.28M1393.8 713.78H1400.8M1393.8 721.28H1400.8" fill="none" stroke="#0a8099" stroke-width="2"/>
<path d="M1425.35 713.78V721.28M1421.85 713.78H1428.85M1421.85 721.28H1428.85" fill="none" stroke="#0a8099" stroke-width="2"/>
<path d="M1453.4 711.91V721.9M1449.9 711.91H1456.9M1449.9 721.9H1456.9" fill="none" stroke="#0a8099" stroke-width="2"/>
<polyline points="1144.85,694.18 1172.9,695.93 1200.95,697.68 1229,657.1 1257.05,654.73 1285.1,651.73 1313.15,572.95 1341.2,572.2 1369.25,566.71 1397.3,717.53 1425.35,717.53 1453.4,716.91" fill="none" stroke="#0a8099" stroke-width="2.3" stroke-linejoin="round"/>
<path d="M1144.85 690.08L1148.65 697.48L1141.05 697.48Z" fill="#0a8099"/>
<path d="M1172.9 691.83L1176.7 699.23L1169.1 699.23Z" fill="#0a8099"/>
<path d="M1200.95 693.58L1204.75 700.98L1197.15 700.98Z" fill="#0a8099"/>
<path d="M1229 653L1232.8 660.4L1225.2 660.4Z" fill="#0a8099"/>
<path d="M1257.05 650.63L1260.85 658.03L1253.25 658.03Z" fill="#0a8099"/>
<path d="M1285.1 647.63L1288.9 655.03L1281.3 655.03Z" fill="#0a8099"/>
<path d="M1313.15 568.85L1316.95 576.25L1309.35 576.25Z" fill="#0a8099"/>
<path d="M1341.2 568.1L1345 575.5L1337.4 575.5Z" fill="#0a8099"/>
<path d="M1369.25 562.61L1373.05 570.01L1365.45 570.01Z" fill="#0a8099"/>
<path d="M1397.3 713.43L1401.1 720.83L1393.5 720.83Z" fill="#0a8099"/>
<path d="M1425.35 713.43L1429.15 720.83L1421.55 720.83Z" fill="#0a8099"/>
<path d="M1453.4 712.81L1457.2 720.21L1449.6 720.21Z" fill="#0a8099"/>
<path d="M1144.85 698.3V705.79M1141.35 698.3H1148.35M1141.35 705.79H1148.35" fill="none" stroke="#c7c300" stroke-width="2"/>
<path d="M1172.9 697.43V707.42M1169.4 697.43H1176.4M1169.4 707.42H1176.4" fill="none" stroke="#c7c300" stroke-width="2"/>
<path d="M1200.95 698.8V711.29M1197.45 698.8H1204.45M1197.45 711.29H1204.45" fill="none" stroke="#c7c300" stroke-width="2"/>
<path d="M1229 667.59V672.58M1225.5 667.59H1232.5M1225.5 672.58H1232.5" fill="none" stroke="#c7c300" stroke-width="2"/>
<path d="M1257.05 657.23V674.71M1253.55 657.23H1260.55M1253.55 674.71H1260.55" fill="none" stroke="#c7c300" stroke-width="2"/>
<path d="M1285.1 659.72V672.21M1281.6 659.72H1288.6M1281.6 672.21H1288.6" fill="none" stroke="#c7c300" stroke-width="2"/>
<path d="M1313.15 610.66V615.65M1309.65 610.66H1316.65M1309.65 615.65H1316.65" fill="none" stroke="#c7c300" stroke-width="2"/>
<path d="M1341.2 604.17V629.14M1337.7 604.17H1344.7M1337.7 629.14H1344.7" fill="none" stroke="#c7c300" stroke-width="2"/>
<path d="M1369.25 612.66V625.14M1365.75 612.66H1372.75M1365.75 625.14H1372.75" fill="none" stroke="#c7c300" stroke-width="2"/>
<path d="M1397.3 711.29V721.28M1393.8 711.29H1400.8M1393.8 721.28H1400.8" fill="none" stroke="#c7c300" stroke-width="2"/>
<path d="M1425.35 711.29V721.28M1421.85 711.29H1428.85M1421.85 721.28H1428.85" fill="none" stroke="#c7c300" stroke-width="2"/>
<path d="M1453.4 711.29V721.28M1449.9 711.29H1456.9M1449.9 721.28H1456.9" fill="none" stroke="#c7c300" stroke-width="2"/>
<polyline points="1144.85,702.05 1172.9,702.42 1200.95,705.04 1229,670.09 1257.05,665.97 1285.1,665.97 1313.15,613.16 1341.2,616.65 1369.25,618.9 1397.3,716.28 1425.35,716.28 1453.4,716.28" fill="none" stroke="#c7c300" stroke-width="2.3" stroke-linejoin="round"/>
<circle cx="1144.85" cy="702.05" r="3.8" fill="#c7c300"/>
<circle cx="1172.9" cy="702.42" r="3.8" fill="#c7c300"/>
<circle cx="1200.95" cy="705.04" r="3.8" fill="#c7c300"/>
<circle cx="1229" cy="670.09" r="3.8" fill="#c7c300"/>
<circle cx="1257.05" cy="665.97" r="3.8" fill="#c7c300"/>
<circle cx="1285.1" cy="665.97" r="3.8" fill="#c7c300"/>
<circle cx="1313.15" cy="613.16" r="3.8" fill="#c7c300"/>
<circle cx="1341.2" cy="616.65" r="3.8" fill="#c7c300"/>
<circle cx="1369.25" cy="618.9" r="3.8" fill="#c7c300"/>
<circle cx="1397.3" cy="716.28" r="3.8" fill="#c7c300"/>
<circle cx="1425.35" cy="716.28" r="3.8" fill="#c7c300"/>
<circle cx="1453.4" cy="716.28" r="3.8" fill="#c7c300"/>
<line x1="1201.2" y1="619.3" x2="1201.2" y2="664.1" stroke="#000" stroke-width="2.3"/>
<path d="M1194 663.1L1208.4 663.1L1201.2 679.8Z" fill="#000"/>
<line x1="1283.8" y1="574" x2="1283.8" y2="619.2" stroke="#000" stroke-width="2.3"/>
<path d="M1276.6 618.2L1291 618.2L1283.8 634.7Z" fill="#000"/>
<line x1="1370.3" y1="491.9" x2="1370.3" y2="536.3" stroke="#000" stroke-width="2.3"/>
<path d="M1363.1 535.3L1377.5 535.3L1370.3 552.1Z" fill="#000"/>
<text x="1125" y="650.6" font-size="15.6" textLength="72.5" lengthAdjust="spacing">Glucose</text>
<text x="1248.1" y="608.4" font-size="15.6" textLength="29.5" lengthAdjust="spacing">OM</text>
<text x="1379" y="527.4" font-size="15.6" textLength="43.5" lengthAdjust="spacing">2-DG</text>
<line x1="1631.6" y1="490.2" x2="1631.6" y2="742.8" stroke="#000" stroke-width="2.8"/>
<line x1="1624.2" y1="491.6" x2="1631.6" y2="491.6" stroke="#000" stroke-width="2.3"/>
<text x="1621.7" y="498.89" font-size="21.2" text-anchor="end" textLength="34.5" lengthAdjust="spacingAndGlyphs">150</text>
<line x1="1624.2" y1="574.9" x2="1631.6" y2="574.9" stroke="#000" stroke-width="2.3"/>
<text x="1621.7" y="582.19" font-size="21.2" text-anchor="end" textLength="34.5" lengthAdjust="spacingAndGlyphs">100</text>
<line x1="1624.2" y1="658.1" x2="1631.6" y2="658.1" stroke="#000" stroke-width="2.3"/>
<text x="1621.7" y="665.39" font-size="21.2" text-anchor="end" textLength="23" lengthAdjust="spacingAndGlyphs">50</text>
<line x1="1624.2" y1="741.4" x2="1631.6" y2="741.4" stroke="#000" stroke-width="2.3"/>
<text x="1621.7" y="748.69" font-size="21.2" text-anchor="end" textLength="11.3" lengthAdjust="spacingAndGlyphs">0</text>
<line x1="1630.2" y1="741.4" x2="1994.7" y2="741.4" stroke="#000" stroke-width="2.52"/>
<line x1="1688.9" y1="741.4" x2="1688.9" y2="748.8" stroke="#000" stroke-width="2.8"/>
<line x1="1812.2" y1="741.4" x2="1812.2" y2="748.8" stroke="#000" stroke-width="2.8"/>
<line x1="1935.6" y1="741.4" x2="1935.6" y2="748.8" stroke="#000" stroke-width="2.8"/>
<text x="1575.7" y="615" font-size="25.4" text-anchor="middle" textLength="184" lengthAdjust="spacingAndGlyphs" transform="rotate(-90 1575.7 615)">ECAR(mPH/min)</text>
<rect x="1647.5" y="434.1" width="26.4" height="9.4" fill="#c7c300" stroke="#000" stroke-width="2.2"/>
<text x="1689.59" y="444.57" font-size="16.6" textLength="51" lengthAdjust="spacing" class="lg">Lv-NC</text>
<rect x="1647.5" y="453.21" width="26.4" height="9.4" fill="#0a8099" stroke="#000" stroke-width="2.2"/>
<text x="1689.59" y="463.68" font-size="16.6" textLength="117" lengthAdjust="spacing" class="lg">Lv-LINC00202</text>
<rect x="1647.5" y="471.97" width="26.4" height="9.4" fill="#c46100" stroke="#000" stroke-width="2.2"/>
<text x="1689.59" y="482.45" font-size="16.6" textLength="190" lengthAdjust="spacing" class="lg">Lv-LINC00202+miR-NC</text>
<rect x="1647.5" y="489.69" width="26.4" height="9.4" fill="#008200" stroke="#000" stroke-width="2.2"/>
<text x="1689.59" y="500.17" font-size="16.6" textLength="222.5" lengthAdjust="spacing" class="lg">Lv-LINC00202+miR-204-5p</text>
<line x1="1649.55" y1="676.37" x2="1649.55" y2="676.86" stroke="#000" stroke-width="2.4"/>
<line x1="1645.3" y1="676.37" x2="1653.8" y2="676.37" stroke="#000" stroke-width="2.4"/>
<rect x="1641.45" y="677.06" width="16.2" height="64.34" fill="#c7c300" stroke="#000" stroke-width="2.4"/>
<line x1="1675.96" y1="652.39" x2="1675.96" y2="655.67" stroke="#000" stroke-width="2.4"/>
<line x1="1671.71" y1="652.39" x2="1680.21" y2="652.39" stroke="#000" stroke-width="2.4"/>
<rect x="1667.86" y="655.87" width="16.2" height="85.53" fill="#0a8099" stroke="#000" stroke-width="2.4"/>
<line x1="1702.36" y1="651.7" x2="1702.36" y2="655.32" stroke="#000" stroke-width="2.4"/>
<line x1="1698.11" y1="651.7" x2="1706.61" y2="651.7" stroke="#000" stroke-width="2.4"/>
<rect x="1694.26" y="655.52" width="16.2" height="85.88" fill="#c46100" stroke="#000" stroke-width="2.4"/>
<line x1="1728.77" y1="662.82" x2="1728.77" y2="669.22" stroke="#000" stroke-width="2.4"/>
<line x1="1724.52" y1="662.82" x2="1733.02" y2="662.82" stroke="#000" stroke-width="2.4"/>
<rect x="1720.67" y="669.42" width="16.2" height="71.98" fill="#008200" stroke="#000" stroke-width="2.4"/>
<line x1="1772.9" y1="607.92" x2="1772.9" y2="608.76" stroke="#000" stroke-width="2.4"/>
<line x1="1768.65" y1="607.92" x2="1777.15" y2="607.92" stroke="#000" stroke-width="2.4"/>
<rect x="1764.8" y="608.96" width="16.2" height="132.44" fill="#c7c300" stroke="#000" stroke-width="2.4"/>
<line x1="1799.3" y1="539.47" x2="1799.3" y2="544.13" stroke="#000" stroke-width="2.4"/>
<line x1="1795.05" y1="539.47" x2="1803.55" y2="539.47" stroke="#000" stroke-width="2.4"/>
<rect x="1791.2" y="544.33" width="16.2" height="197.07" fill="#0a8099" stroke="#000" stroke-width="2.4"/>
<line x1="1825.71" y1="541.9" x2="1825.71" y2="546.56" stroke="#000" stroke-width="2.4"/>
<line x1="1821.46" y1="541.9" x2="1829.96" y2="541.9" stroke="#000" stroke-width="2.4"/>
<rect x="1817.61" y="546.76" width="16.2" height="194.64" fill="#c46100" stroke="#000" stroke-width="2.4"/>
<line x1="1852.12" y1="595.41" x2="1852.12" y2="597.64" stroke="#000" stroke-width="2.4"/>
<line x1="1847.87" y1="595.41" x2="1856.37" y2="595.41" stroke="#000" stroke-width="2.4"/>
<rect x="1844.02" y="597.84" width="16.2" height="143.56" fill="#008200" stroke="#000" stroke-width="2.4"/>
<line x1="1896.25" y1="671.85" x2="1896.25" y2="672.69" stroke="#000" stroke-width="2.4"/>
<line x1="1892" y1="671.85" x2="1900.5" y2="671.85" stroke="#000" stroke-width="2.4"/>
<rect x="1888.15" y="672.89" width="16.2" height="68.51" fill="#c7c300" stroke="#000" stroke-width="2.4"/>
<line x1="1922.65" y1="622.51" x2="1922.65" y2="629.96" stroke="#000" stroke-width="2.4"/>
<line x1="1918.4" y1="622.51" x2="1926.9" y2="622.51" stroke="#000" stroke-width="2.4"/>
<rect x="1914.55" y="630.16" width="16.2" height="111.24" fill="#0a8099" stroke="#000" stroke-width="2.4"/>
<line x1="1949.06" y1="631.2" x2="1949.06" y2="632.39" stroke="#000" stroke-width="2.4"/>
<line x1="1944.81" y1="631.2" x2="1953.31" y2="631.2" stroke="#000" stroke-width="2.4"/>
<rect x="1940.96" y="632.59" width="16.2" height="108.81" fill="#c46100" stroke="#000" stroke-width="2.4"/>
<line x1="1975.47" y1="665.25" x2="1975.47" y2="669.91" stroke="#000" stroke-width="2.4"/>
<line x1="1971.22" y1="665.25" x2="1979.72" y2="665.25" stroke="#000" stroke-width="2.4"/>
<rect x="1967.37" y="670.11" width="16.2" height="71.29" fill="#008200" stroke="#000" stroke-width="2.4"/>
<line x1="1650.67" y1="645.54" x2="1677.77" y2="645.54" stroke="#000" stroke-width="2.4"/>
<text x="1648.94" y="648.46" font-size="25" text-anchor="middle" textLength="10.8" lengthAdjust="spacingAndGlyphs">*</text>
<text x="1662.14" y="648.46" font-size="25" text-anchor="middle" textLength="10.8" lengthAdjust="spacingAndGlyphs">*</text>
<text x="1675.34" y="648.46" font-size="25" text-anchor="middle" textLength="10.8" lengthAdjust="spacingAndGlyphs">*</text>
<line x1="1700.36" y1="644.5" x2="1727.11" y2="644.5" stroke="#000" stroke-width="2.4"/>
<text x="1707.66" y="647.42" font-size="25" text-anchor="middle" textLength="10.8" lengthAdjust="spacingAndGlyphs">*</text>
<text x="1720.86" y="647.42" font-size="25" text-anchor="middle" textLength="10.8" lengthAdjust="spacingAndGlyphs">*</text>
<line x1="1772.28" y1="532.27" x2="1799.39" y2="532.27" stroke="#000" stroke-width="2.4"/>
<text x="1771.25" y="535.19" font-size="25" text-anchor="middle" textLength="10.8" lengthAdjust="spacingAndGlyphs">*</text>
<text x="1784.45" y="535.19" font-size="25" text-anchor="middle" textLength="10.8" lengthAdjust="spacingAndGlyphs">*</text>
<text x="1797.65" y="535.19" font-size="25" text-anchor="middle" textLength="10.8" lengthAdjust="spacingAndGlyphs">*</text>
<line x1="1824.4" y1="534" x2="1851.51" y2="534" stroke="#000" stroke-width="2.4"/>
<text x="1824.06" y="536.93" font-size="25" text-anchor="middle" textLength="10.8" lengthAdjust="spacingAndGlyphs">*</text>
<text x="1837.26" y="536.93" font-size="25" text-anchor="middle" textLength="10.8" lengthAdjust="spacingAndGlyphs">*</text>
<text x="1850.46" y="536.93" font-size="25" text-anchor="middle" textLength="10.8" lengthAdjust="spacingAndGlyphs">*</text>
<line x1="1894.94" y1="614.61" x2="1921.69" y2="614.61" stroke="#000" stroke-width="2.4"/>
<text x="1895.29" y="617.54" font-size="25" text-anchor="middle" textLength="10.8" lengthAdjust="spacingAndGlyphs">*</text>
<text x="1908.49" y="617.54" font-size="25" text-anchor="middle" textLength="10.8" lengthAdjust="spacingAndGlyphs">*</text>
<text x="1921.69" y="617.54" font-size="25" text-anchor="middle" textLength="10.8" lengthAdjust="spacingAndGlyphs">*</text>
<line x1="1946.71" y1="624.69" x2="1973.12" y2="624.69" stroke="#000" stroke-width="2.4"/>
<text x="1944.28" y="627.62" font-size="25" text-anchor="middle" textLength="10.8" lengthAdjust="spacingAndGlyphs">*</text>
<text x="1957.48" y="627.62" font-size="25" text-anchor="middle" textLength="10.8" lengthAdjust="spacingAndGlyphs">*</text>
<text x="1970.68" y="627.62" font-size="25" text-anchor="middle" textLength="10.8" lengthAdjust="spacingAndGlyphs">*</text>
<text x="1688.9" y="769.6" font-size="20.4" text-anchor="middle" textLength="103" lengthAdjust="spacingAndGlyphs">Glycolysis</text>
<text x="1809.5" y="769.6" font-size="20.4" text-anchor="middle" textLength="99" lengthAdjust="spacingAndGlyphs">Glycolytic</text>
<text x="1811.5" y="794" font-size="20.4" text-anchor="middle" textLength="83" lengthAdjust="spacingAndGlyphs">capacity</text>
<text x="1932" y="769.6" font-size="20.4" text-anchor="middle" textLength="99" lengthAdjust="spacingAndGlyphs">Glycolytic</text>
<text x="1935.6" y="794" font-size="20.4" text-anchor="middle" textLength="74" lengthAdjust="spacingAndGlyphs">reverse</text>
<text x="4" y="849" font-size="31.5" textLength="42" lengthAdjust="spacingAndGlyphs">(e)</text>
<text x="515.6" y="845.2" font-size="23.8" text-anchor="middle" textLength="47.3" lengthAdjust="spacingAndGlyphs">Y79</text>
<line x1="339.9" y1="853.2" x2="670.9" y2="853.2" stroke="#000" stroke-width="3.3"/>
<g>
<rect x="133.4" y="867.9" width="337.8" height="286.2" fill="#c3c3c3" filter="url(#blbg)"/>
<g filter="url(#bl)">
<rect x="158.06" y="893.05" width="54.37" height="9.34" rx="4.87" ry="4.67" fill="#050505"/>
<rect x="235.09" y="888.52" width="59.36" height="16.59" rx="5.5" ry="8.3" fill="#050505"/>
<rect x="315.97" y="887.84" width="55.51" height="16.14" rx="5.5" ry="8.07" fill="#050505"/>
<rect x="391.41" y="888.52" width="53.69" height="11.38" rx="5.5" ry="5.69" fill="#050505" transform="rotate(-4 418.26 894.21)"/>
<rect x="155.12" y="947.42" width="57.32" height="12.06" rx="5.5" ry="6.03" fill="#050505"/>
<rect x="235.99" y="946.29" width="56.18" height="12.74" rx="5.5" ry="6.37" fill="#050505"/>
<rect x="317.1" y="946.74" width="53.24" height="12.29" rx="5.5" ry="6.14" fill="#050505"/>
<rect x="390.05" y="945.16" width="53.92" height="12.06" rx="5.5" ry="6.03" fill="#050505"/>
<rect x="155.8" y="1004.06" width="57.09" height="12.06" rx="5.5" ry="6.03" fill="#050505"/>
<rect x="240.07" y="1007.01" width="50.97" height="7.98" rx="4.19" ry="3.99" fill="#050505"/>
<rect x="317.55" y="1010.18" width="51.65" height="7.08" rx="3.74" ry="3.54" fill="#050505"/>
<rect x="390.73" y="1008.59" width="55.05" height="10.93" rx="5.5" ry="5.46" fill="#050505"/>
<rect x="157.38" y="1065.91" width="54.37" height="9.12" rx="4.76" ry="4.56" fill="#050505"/>
<rect x="235.09" y="1062.96" width="58.22" height="14.33" rx="5.5" ry="7.16" fill="#050505"/>
<rect x="315.29" y="1065.23" width="56.64" height="15.46" rx="5.5" ry="7.73" fill="#050505"/>
<rect x="390.05" y="1069.08" width="57.32" height="9.34" rx="4.87" ry="4.67" fill="#050505"/>
<rect x="155.8" y="1119.6" width="58.22" height="15.46" rx="5.5" ry="7.73" fill="#050505"/>
<rect x="235.09" y="1125.72" width="61.17" height="13.87" rx="5.5" ry="6.94" fill="#050505"/>
<rect x="314.38" y="1124.13" width="59.36" height="14.78" rx="5.5" ry="7.39" fill="#050505"/>
<rect x="389.6" y="1123" width="59.36" height="14.33" rx="5.5" ry="7.16" fill="#050505"/>
</g>
<line x1="132.4" y1="924.1" x2="472.2" y2="924.1" stroke="#fff" stroke-width="2.1"/>
<line x1="132.4" y1="981.7" x2="472.2" y2="981.7" stroke="#fff" stroke-width="2.1"/>
<line x1="132.4" y1="1040.1" x2="472.2" y2="1040.1" stroke="#fff" stroke-width="2.1"/>
<line x1="132.4" y1="1097.2" x2="472.2" y2="1097.2" stroke="#fff" stroke-width="2.1"/>
</g>
<text x="129.5" y="903.7" font-size="23" text-anchor="end" textLength="42.5" lengthAdjust="spacingAndGlyphs">ki67</text>
<text x="129.5" y="961.1" font-size="23" text-anchor="end" textLength="70" lengthAdjust="spacingAndGlyphs">pro-c3</text>
<text x="129.5" y="1015.1" font-size="23" text-anchor="end" textLength="121.5" lengthAdjust="spacingAndGlyphs">cleaved-c3</text>
<text x="129.5" y="1078.4" font-size="23" text-anchor="end" textLength="62" lengthAdjust="spacingAndGlyphs">LDHA</text>
<text x="129.5" y="1140.5" font-size="23" text-anchor="end" textLength="81.5" lengthAdjust="spacingAndGlyphs">GAPDH</text>
<text x="479.3" y="903.2" font-size="23.8" textLength="83" lengthAdjust="spacingAndGlyphs">359KDa</text>
<text x="479.3" y="962.6" font-size="23.8" textLength="70.5" lengthAdjust="spacingAndGlyphs">35KDa</text>
<text x="479.3" y="1025.5" font-size="23.8" textLength="70.5" lengthAdjust="spacingAndGlyphs">17KDa</text>
<text x="479.3" y="1085.6" font-size="23.8" textLength="70.5" lengthAdjust="spacingAndGlyphs">39KDa</text>
<text x="479.3" y="1140.7" font-size="23.8" textLength="70.5" lengthAdjust="spacingAndGlyphs">36KDa</text>
<text x="144.3" y="1203" font-size="23" textLength="61" lengthAdjust="spacingAndGlyphs" transform="rotate(-29 144.3 1203)">Lv-NC</text>
<text x="147.9" y="1247" font-size="23" textLength="148" lengthAdjust="spacingAndGlyphs" transform="rotate(-29 147.9 1247)">Lv-LINC00202</text>
<text x="133.5" y="1296.5" font-size="23" textLength="244" lengthAdjust="spacingAndGlyphs" transform="rotate(-29 133.5 1296.5)">Lv-LINC00202+miR-NC</text>
<text x="183.8" y="1312.7" font-size="23" textLength="281" lengthAdjust="spacingAndGlyphs" transform="rotate(-29 183.8 1312.7)">Lv-LINC00202+miR-204-5p</text>
<line x1="619.3" y1="940.7" x2="619.3" y2="1193.3" stroke="#000" stroke-width="2.6"/>
<line x1="612" y1="942" x2="619.3" y2="942" stroke="#000" stroke-width="2.13"/>
<text x="609.5" y="949.59" font-size="21.2" text-anchor="end" textLength="11.6" lengthAdjust="spacingAndGlyphs">3</text>
<line x1="612" y1="1025.5" x2="619.3" y2="1025.5" stroke="#000" stroke-width="2.13"/>
<text x="609.5" y="1033.09" font-size="21.2" text-anchor="end" textLength="11.6" lengthAdjust="spacingAndGlyphs">2</text>
<line x1="612" y1="1108.9" x2="619.3" y2="1108.9" stroke="#000" stroke-width="2.13"/>
<text x="609.5" y="1116.49" font-size="21.2" text-anchor="end" textLength="11.6" lengthAdjust="spacingAndGlyphs">1</text>
<line x1="612" y1="1192" x2="619.3" y2="1192" stroke="#000" stroke-width="2.13"/>
<text x="609.5" y="1199.59" font-size="21.2" text-anchor="end" textLength="11.6" lengthAdjust="spacingAndGlyphs">0</text>
<line x1="618.3" y1="1192" x2="993.5" y2="1192" stroke="#000" stroke-width="2.34"/>
<line x1="662.7" y1="1192" x2="662.7" y2="1199.3" stroke="#000" stroke-width="2.6"/>
<line x1="757.8" y1="1192" x2="757.8" y2="1199.3" stroke="#000" stroke-width="2.6"/>
<line x1="852.9" y1="1192" x2="852.9" y2="1199.3" stroke="#000" stroke-width="2.6"/>
<line x1="948" y1="1192" x2="948" y2="1199.3" stroke="#000" stroke-width="2.6"/>
<text x="586" y="1066.4" font-size="24.5" text-anchor="middle" textLength="314" lengthAdjust="spacingAndGlyphs" transform="rotate(-90 586 1066.4)">Relative protein expression</text>
<rect x="633.39" y="869.05" width="26.4" height="10" fill="#c7c300" stroke="#000" stroke-width="2.2"/>
<text x="675.87" y="879.83" font-size="16.6" textLength="51" lengthAdjust="spacing" class="lg">Lv-NC</text>
<rect x="633.39" y="886.52" width="26.4" height="10" fill="#0a8099" stroke="#000" stroke-width="2.2"/>
<text x="675.87" y="897.3" font-size="16.6" textLength="117" lengthAdjust="spacing" class="lg">Lv-LINC00202</text>
<rect x="633.39" y="903.99" width="26.4" height="10" fill="#c46100" stroke="#000" stroke-width="2.2"/>
<text x="675.87" y="914.77" font-size="16.6" textLength="190" lengthAdjust="spacing" class="lg">Lv-LINC00202+miR-NC</text>
<rect x="633.39" y="920.3" width="26.4" height="10" fill="#008200" stroke="#000" stroke-width="2.2"/>
<text x="675.87" y="931.07" font-size="16.6" textLength="222.5" lengthAdjust="spacing" class="lg">Lv-LINC00202+miR-204-5p</text>
<line x1="632.99" y1="1099.81" x2="632.99" y2="1108.54" stroke="#000" stroke-width="2.4"/>
<line x1="629.69" y1="1099.81" x2="636.29" y2="1099.81" stroke="#000" stroke-width="2.4"/>
<rect x="626.69" y="1108.74" width="12.6" height="83.26" fill="#c7c300" stroke="#000" stroke-width="2.4"/>
<line x1="653.18" y1="980.63" x2="653.18" y2="997.51" stroke="#000" stroke-width="2.4"/>
<line x1="649.88" y1="980.63" x2="656.48" y2="980.63" stroke="#000" stroke-width="2.4"/>
<rect x="646.88" y="997.71" width="12.6" height="194.29" fill="#0a8099" stroke="#000" stroke-width="2.4"/>
<line x1="673.75" y1="984.51" x2="673.75" y2="1001.39" stroke="#000" stroke-width="2.4"/>
<line x1="670.45" y1="984.51" x2="677.05" y2="984.51" stroke="#000" stroke-width="2.4"/>
<rect x="667.45" y="1001.59" width="12.6" height="190.41" fill="#c46100" stroke="#000" stroke-width="2.4"/>
<line x1="694.33" y1="1080.01" x2="694.33" y2="1089.13" stroke="#000" stroke-width="2.4"/>
<line x1="691.03" y1="1080.01" x2="697.63" y2="1080.01" stroke="#000" stroke-width="2.4"/>
<rect x="688.03" y="1089.33" width="12.6" height="102.67" fill="#008200" stroke="#000" stroke-width="2.4"/>
<line x1="727.71" y1="1102.14" x2="727.71" y2="1108.54" stroke="#000" stroke-width="2.4"/>
<line x1="724.41" y1="1102.14" x2="731.01" y2="1102.14" stroke="#000" stroke-width="2.4"/>
<rect x="721.41" y="1108.74" width="12.6" height="83.26" fill="#c7c300" stroke="#000" stroke-width="2.4"/>
<line x1="748.29" y1="1082.73" x2="748.29" y2="1090.68" stroke="#000" stroke-width="2.4"/>
<line x1="744.99" y1="1082.73" x2="751.59" y2="1082.73" stroke="#000" stroke-width="2.4"/>
<rect x="741.99" y="1090.88" width="12.6" height="101.12" fill="#0a8099" stroke="#000" stroke-width="2.4"/>
<line x1="768.47" y1="1085.06" x2="768.47" y2="1093.79" stroke="#000" stroke-width="2.4"/>
<line x1="765.17" y1="1085.06" x2="771.77" y2="1085.06" stroke="#000" stroke-width="2.4"/>
<rect x="762.17" y="1093.99" width="12.6" height="98.01" fill="#c46100" stroke="#000" stroke-width="2.4"/>
<line x1="788.66" y1="1092.82" x2="788.66" y2="1100.77" stroke="#000" stroke-width="2.4"/>
<line x1="785.36" y1="1092.82" x2="791.96" y2="1092.82" stroke="#000" stroke-width="2.4"/>
<rect x="782.36" y="1100.97" width="12.6" height="91.03" fill="#008200" stroke="#000" stroke-width="2.4"/>
<line x1="822.43" y1="1100.58" x2="822.43" y2="1108.54" stroke="#000" stroke-width="2.4"/>
<line x1="819.13" y1="1100.58" x2="825.73" y2="1100.58" stroke="#000" stroke-width="2.4"/>
<rect x="816.13" y="1108.74" width="12.6" height="83.26" fill="#c7c300" stroke="#000" stroke-width="2.4"/>
<line x1="843.01" y1="1142.51" x2="843.01" y2="1146.58" stroke="#000" stroke-width="2.4"/>
<line x1="839.71" y1="1142.51" x2="846.31" y2="1142.51" stroke="#000" stroke-width="2.4"/>
<rect x="836.71" y="1146.78" width="12.6" height="45.22" fill="#0a8099" stroke="#000" stroke-width="2.4"/>
<line x1="863.19" y1="1142.51" x2="863.19" y2="1146.19" stroke="#000" stroke-width="2.4"/>
<line x1="859.89" y1="1142.51" x2="866.49" y2="1142.51" stroke="#000" stroke-width="2.4"/>
<rect x="856.89" y="1146.39" width="12.6" height="45.61" fill="#c46100" stroke="#000" stroke-width="2.4"/>
<line x1="883.77" y1="1109.12" x2="883.77" y2="1115.91" stroke="#000" stroke-width="2.4"/>
<line x1="880.47" y1="1109.12" x2="887.07" y2="1109.12" stroke="#000" stroke-width="2.4"/>
<rect x="877.47" y="1116.11" width="12.6" height="75.89" fill="#008200" stroke="#000" stroke-width="2.4"/>
<line x1="917.93" y1="1101.36" x2="917.93" y2="1108.54" stroke="#000" stroke-width="2.4"/>
<line x1="914.63" y1="1101.36" x2="921.23" y2="1101.36" stroke="#000" stroke-width="2.4"/>
<rect x="911.63" y="1108.74" width="12.6" height="83.26" fill="#c7c300" stroke="#000" stroke-width="2.4"/>
<line x1="938.12" y1="1013.63" x2="938.12" y2="1027.01" stroke="#000" stroke-width="2.4"/>
<line x1="934.82" y1="1013.63" x2="941.42" y2="1013.63" stroke="#000" stroke-width="2.4"/>
<rect x="931.82" y="1027.21" width="12.6" height="164.79" fill="#0a8099" stroke="#000" stroke-width="2.4"/>
<line x1="958.69" y1="1010.52" x2="958.69" y2="1024.69" stroke="#000" stroke-width="2.4"/>
<line x1="955.39" y1="1010.52" x2="961.99" y2="1010.52" stroke="#000" stroke-width="2.4"/>
<rect x="952.39" y="1024.89" width="12.6" height="167.11" fill="#c46100" stroke="#000" stroke-width="2.4"/>
<line x1="978.88" y1="1087" x2="978.88" y2="1094.56" stroke="#000" stroke-width="2.4"/>
<line x1="975.58" y1="1087" x2="982.18" y2="1087" stroke="#000" stroke-width="2.4"/>
<rect x="972.58" y="1094.76" width="12.6" height="97.24" fill="#008200" stroke="#000" stroke-width="2.4"/>
<line x1="635" y1="973.7" x2="652.7" y2="973.7" stroke="#000" stroke-width="2.4"/>
<text x="630.3" y="981.76" font-size="27" text-anchor="middle" textLength="11.4" lengthAdjust="spacingAndGlyphs">*</text>
<text x="644.2" y="981.76" font-size="27" text-anchor="middle" textLength="11.4" lengthAdjust="spacingAndGlyphs">*</text>
<text x="658.1" y="981.76" font-size="27" text-anchor="middle" textLength="11.4" lengthAdjust="spacingAndGlyphs">*</text>
<line x1="674.4" y1="978" x2="693.8" y2="978" stroke="#000" stroke-width="2.4"/>
<text x="672.1" y="985.56" font-size="27" text-anchor="middle" textLength="11.4" lengthAdjust="spacingAndGlyphs">*</text>
<text x="686" y="985.56" font-size="27" text-anchor="middle" textLength="11.4" lengthAdjust="spacingAndGlyphs">*</text>
<text x="699.9" y="985.56" font-size="27" text-anchor="middle" textLength="11.4" lengthAdjust="spacingAndGlyphs">*</text>
<line x1="822.4" y1="1094.5" x2="842.9" y2="1094.5" stroke="#000" stroke-width="2.4"/>
<text x="826.25" y="1100.66" font-size="27" text-anchor="middle" textLength="11.4" lengthAdjust="spacingAndGlyphs">*</text>
<text x="840.15" y="1100.66" font-size="27" text-anchor="middle" textLength="11.4" lengthAdjust="spacingAndGlyphs">*</text>
<line x1="864.7" y1="1100.8" x2="884.7" y2="1100.8" stroke="#000" stroke-width="2.4"/>
<text x="868.85" y="1106.96" font-size="27" text-anchor="middle" textLength="11.4" lengthAdjust="spacingAndGlyphs">*</text>
<text x="882.75" y="1106.96" font-size="27" text-anchor="middle" textLength="11.4" lengthAdjust="spacingAndGlyphs">*</text>
<line x1="918.5" y1="1006.5" x2="937.9" y2="1006.5" stroke="#000" stroke-width="2.4"/>
<text x="916.5" y="1013.06" font-size="27" text-anchor="middle" textLength="11.4" lengthAdjust="spacingAndGlyphs">*</text>
<text x="930.4" y="1013.06" font-size="27" text-anchor="middle" textLength="11.4" lengthAdjust="spacingAndGlyphs">*</text>
<text x="944.3" y="1013.06" font-size="27" text-anchor="middle" textLength="11.4" lengthAdjust="spacingAndGlyphs">*</text>
<line x1="957.7" y1="994.4" x2="977" y2="994.4" stroke="#000" stroke-width="2.4"/>
<text x="953" y="997.46" font-size="27" text-anchor="middle" textLength="11.4" lengthAdjust="spacingAndGlyphs">*</text>
<text x="966.9" y="997.46" font-size="27" text-anchor="middle" textLength="11.4" lengthAdjust="spacingAndGlyphs">*</text>
<text x="980.8" y="997.46" font-size="27" text-anchor="middle" textLength="11.4" lengthAdjust="spacingAndGlyphs">*</text>
<text x="662.7" y="1220.7" font-size="19.6" text-anchor="middle" textLength="38.5" lengthAdjust="spacingAndGlyphs">ki67</text>
<text x="758.6" y="1220.7" font-size="19.6" text-anchor="middle" textLength="62.5" lengthAdjust="spacingAndGlyphs">pro-c3</text>
<text x="853.3" y="1220.7" font-size="19.6" text-anchor="middle" textLength="105.5" lengthAdjust="spacingAndGlyphs">cleaved-c3</text>
<text x="948.2" y="1220.7" font-size="19.6" text-anchor="middle" textLength="56.5" lengthAdjust="spacingAndGlyphs">LDHA</text>
<text x="1499.2" y="844.4" font-size="23.8" text-anchor="middle" textLength="128.8" lengthAdjust="spacingAndGlyphs">HXO-RB44</text>
<line x1="1315.3" y1="852.3" x2="1646" y2="852.3" stroke="#000" stroke-width="3.3"/>
<g>
<rect x="1127.9" y="869.4" width="337.5" height="293.3" fill="#c3c3c3" filter="url(#blbg)"/>
<g filter="url(#bl)">
<rect x="1152.92" y="892.5" width="52.2" height="9.43" rx="4.92" ry="4.72" fill="#050505"/>
<rect x="1227.36" y="887.82" width="56.65" height="14.11" rx="5.5" ry="7.06" fill="#3c3c3c"/>
<rect x="1305.07" y="887.12" width="58.52" height="15.99" rx="5.5" ry="7.99" fill="#2b2b2b"/>
<rect x="1383.73" y="891.8" width="55.48" height="10.13" rx="5.27" ry="5.07" fill="#050505"/>
<rect x="1152.92" y="955" width="52.2" height="11.3" rx="5.5" ry="5.65" fill="#050505"/>
<rect x="1225.02" y="954.3" width="56.65" height="12.01" rx="5.5" ry="6" fill="#050505"/>
<rect x="1302.27" y="955" width="58.05" height="11.3" rx="5.5" ry="5.65" fill="#050505"/>
<rect x="1385.37" y="956.17" width="54.54" height="11.77" rx="5.5" ry="5.89" fill="#050505"/>
<rect x="1152.45" y="1014.23" width="51.97" height="9.43" rx="4.92" ry="4.72" fill="#050505"/>
<rect x="1225.49" y="1016.57" width="56.88" height="5.92" rx="3.16" ry="2.96" fill="#050505"/>
<rect x="1304.14" y="1015.86" width="56.65" height="6.62" rx="3.51" ry="3.31" fill="#050505"/>
<rect x="1385.83" y="1018.21" width="53.37" height="8.26" rx="4.33" ry="4.13" fill="#050505"/>
<rect x="1151.28" y="1075.09" width="53.37" height="10.6" rx="5.5" ry="5.3" fill="#050505"/>
<rect x="1224.55" y="1069.7" width="58.52" height="15.99" rx="5.5" ry="7.99" fill="#050505"/>
<rect x="1303.44" y="1072.75" width="57.82" height="14.58" rx="5.5" ry="7.29" fill="#050505"/>
<rect x="1384.19" y="1072.04" width="57.35" height="8.96" rx="4.68" ry="4.48" fill="#050505"/>
<rect x="1149.64" y="1130.57" width="58.99" height="17.16" rx="5.5" ry="8.58" fill="#050505"/>
<rect x="1224.55" y="1128.93" width="60.16" height="16.45" rx="5.5" ry="8.23" fill="#050505"/>
<rect x="1304.14" y="1129.39" width="60.16" height="16.45" rx="5.5" ry="8.23" fill="#050505"/>
<rect x="1382.32" y="1130.57" width="62.73" height="15.28" rx="5.5" ry="7.64" fill="#050505"/>
</g>
<line x1="1126.9" y1="927.9" x2="1466.4" y2="927.9" stroke="#fff" stroke-width="3"/>
<line x1="1126.9" y1="987.1" x2="1466.4" y2="987.1" stroke="#fff" stroke-width="3"/>
<line x1="1126.9" y1="1046.6" x2="1466.4" y2="1046.6" stroke="#fff" stroke-width="3"/>
<line x1="1126.9" y1="1105.3" x2="1466.4" y2="1105.3" stroke="#fff" stroke-width="3"/>
</g>
<text x="1122.3" y="910.7" font-size="23" text-anchor="end" textLength="42.5" lengthAdjust="spacingAndGlyphs">ki67</text>
<text x="1122.3" y="967.7" font-size="23" text-anchor="end" textLength="70" lengthAdjust="spacingAndGlyphs">pro-c3</text>
<text x="1122.3" y="1023.2" font-size="23" text-anchor="end" textLength="121.5" lengthAdjust="spacingAndGlyphs">cleaved-c3</text>
<text x="1122.3" y="1086.1" font-size="23" text-anchor="end" textLength="62" lengthAdjust="spacingAndGlyphs">LDHA</text>
<text x="1122.3" y="1146.3" font-size="23" text-anchor="end" textLength="81.5" lengthAdjust="spacingAndGlyphs">GAPDH</text>
<text x="1473.6" y="905.9" font-size="23.8" textLength="83" lengthAdjust="spacingAndGlyphs">359KDa</text>
<text x="1473.6" y="966.4" font-size="23.8" textLength="70.5" lengthAdjust="spacingAndGlyphs">35KDa</text>
<text x="1473.6" y="1029.3" font-size="23.8" textLength="70.5" lengthAdjust="spacingAndGlyphs">17KDa</text>
<text x="1473.6" y="1088.7" font-size="23.8" textLength="70.5" lengthAdjust="spacingAndGlyphs">39KDa</text>
<text x="1473.6" y="1150.8" font-size="23.8" textLength="70.5" lengthAdjust="spacingAndGlyphs">36KDa</text>
<text x="1163.8" y="1211.8" font-size="23.5" textLength="66" lengthAdjust="spacingAndGlyphs" transform="rotate(-27 1163.8 1211.8)">Lv-NC</text>
<text x="1167.7" y="1255.6" font-size="23.5" textLength="148" lengthAdjust="spacingAndGlyphs" transform="rotate(-28 1167.7 1255.6)">Lv-LINC00202</text>
<text x="1154.1" y="1306.1" font-size="23.5" textLength="246.5" lengthAdjust="spacingAndGlyphs" transform="rotate(-28.6 1154.1 1306.1)">Lv-LINC00202+miR-NC</text>
<text x="1204" y="1321.6" font-size="23.5" textLength="285.5" lengthAdjust="spacingAndGlyphs" transform="rotate(-28.4 1204 1321.6)">Lv-LINC00202+miR-204-5p</text>
<line x1="1625.3" y1="939.9" x2="1625.3" y2="1191.7" stroke="#000" stroke-width="2.6"/>
<line x1="1618" y1="941.2" x2="1625.3" y2="941.2" stroke="#000" stroke-width="2.13"/>
<text x="1614.6" y="948.57" font-size="20.6" text-anchor="end" textLength="28.6" lengthAdjust="spacingAndGlyphs">2.5</text>
<line x1="1618" y1="991.1" x2="1625.3" y2="991.1" stroke="#000" stroke-width="2.13"/>
<text x="1614.6" y="998.47" font-size="20.6" text-anchor="end" textLength="28.6" lengthAdjust="spacingAndGlyphs">2.0</text>
<line x1="1618" y1="1040.9" x2="1625.3" y2="1040.9" stroke="#000" stroke-width="2.13"/>
<text x="1614.6" y="1048.27" font-size="20.6" text-anchor="end" textLength="27.1" lengthAdjust="spacingAndGlyphs">1.5</text>
<line x1="1618" y1="1090.7" x2="1625.3" y2="1090.7" stroke="#000" stroke-width="2.13"/>
<text x="1614.6" y="1098.07" font-size="20.6" text-anchor="end" textLength="27.1" lengthAdjust="spacingAndGlyphs">1.0</text>
<line x1="1618" y1="1140.6" x2="1625.3" y2="1140.6" stroke="#000" stroke-width="2.13"/>
<text x="1614.6" y="1147.97" font-size="20.6" text-anchor="end" textLength="28.6" lengthAdjust="spacingAndGlyphs">0.5</text>
<line x1="1618" y1="1190.4" x2="1625.3" y2="1190.4" stroke="#000" stroke-width="2.13"/>
<text x="1614.6" y="1197.77" font-size="20.6" text-anchor="end" textLength="28.6" lengthAdjust="spacingAndGlyphs">0.0</text>
<line x1="1624" y1="1190.4" x2="2000" y2="1190.4" stroke="#000" stroke-width="2.34"/>
<line x1="1668.8" y1="1190.4" x2="1668.8" y2="1197.7" stroke="#000" stroke-width="2.6"/>
<line x1="1763.5" y1="1190.4" x2="1763.5" y2="1197.7" stroke="#000" stroke-width="2.6"/>
<line x1="1858.2" y1="1190.4" x2="1858.2" y2="1197.7" stroke="#000" stroke-width="2.6"/>
<line x1="1953.7" y1="1190.4" x2="1953.7" y2="1197.7" stroke="#000" stroke-width="2.6"/>
<text x="1574.4" y="1065.6" font-size="24.3" text-anchor="middle" textLength="314" lengthAdjust="spacingAndGlyphs" transform="rotate(-90 1574.4 1065.6)">Relative protein expression</text>
<rect x="1632.11" y="865.95" width="26.4" height="10" fill="#c7c300" stroke="#000" stroke-width="2.2"/>
<text x="1673.81" y="876.72" font-size="16.6" textLength="51" lengthAdjust="spacing" class="lg">Lv-NC</text>
<rect x="1632.11" y="883.42" width="26.4" height="10" fill="#0a8099" stroke="#000" stroke-width="2.2"/>
<text x="1673.81" y="894.19" font-size="16.6" textLength="117" lengthAdjust="spacing" class="lg">Lv-LINC00202</text>
<rect x="1632.11" y="900.11" width="26.4" height="10" fill="#c46100" stroke="#000" stroke-width="2.2"/>
<text x="1673.81" y="910.88" font-size="16.6" textLength="190" lengthAdjust="spacing" class="lg">Lv-LINC00202+miR-NC</text>
<rect x="1632.11" y="916.8" width="26.4" height="10" fill="#008200" stroke="#000" stroke-width="2.2"/>
<text x="1673.81" y="927.58" font-size="16.6" textLength="222.5" lengthAdjust="spacing" class="lg">Lv-LINC00202+miR-204-5p</text>
<line x1="1638.98" y1="1080.4" x2="1638.98" y2="1090.68" stroke="#000" stroke-width="2.4"/>
<line x1="1635.68" y1="1080.4" x2="1642.28" y2="1080.4" stroke="#000" stroke-width="2.4"/>
<rect x="1632.68" y="1090.88" width="12.6" height="99.52" fill="#c7c300" stroke="#000" stroke-width="2.4"/>
<line x1="1659.17" y1="958.5" x2="1659.17" y2="977.33" stroke="#000" stroke-width="2.4"/>
<line x1="1655.87" y1="958.5" x2="1662.47" y2="958.5" stroke="#000" stroke-width="2.4"/>
<rect x="1652.87" y="977.53" width="12.6" height="212.87" fill="#0a8099" stroke="#000" stroke-width="2.4"/>
<line x1="1679.74" y1="956.17" x2="1679.74" y2="975" stroke="#000" stroke-width="2.4"/>
<line x1="1676.44" y1="956.17" x2="1683.04" y2="956.17" stroke="#000" stroke-width="2.4"/>
<rect x="1673.44" y="975.2" width="12.6" height="215.2" fill="#c46100" stroke="#000" stroke-width="2.4"/>
<line x1="1699.93" y1="1050.12" x2="1699.93" y2="1060.01" stroke="#000" stroke-width="2.4"/>
<line x1="1696.63" y1="1050.12" x2="1703.23" y2="1050.12" stroke="#000" stroke-width="2.4"/>
<rect x="1693.63" y="1060.21" width="12.6" height="130.19" fill="#008200" stroke="#000" stroke-width="2.4"/>
<line x1="1734.09" y1="1081.95" x2="1734.09" y2="1090.68" stroke="#000" stroke-width="2.4"/>
<line x1="1730.79" y1="1081.95" x2="1737.39" y2="1081.95" stroke="#000" stroke-width="2.4"/>
<rect x="1727.79" y="1090.88" width="12.6" height="99.52" fill="#c7c300" stroke="#000" stroke-width="2.4"/>
<line x1="1754.28" y1="1064.87" x2="1754.28" y2="1075.15" stroke="#000" stroke-width="2.4"/>
<line x1="1750.98" y1="1064.87" x2="1757.58" y2="1064.87" stroke="#000" stroke-width="2.4"/>
<rect x="1747.98" y="1075.35" width="12.6" height="115.05" fill="#0a8099" stroke="#000" stroke-width="2.4"/>
<line x1="1774.46" y1="1063.71" x2="1774.46" y2="1073.99" stroke="#000" stroke-width="2.4"/>
<line x1="1771.16" y1="1063.71" x2="1777.76" y2="1063.71" stroke="#000" stroke-width="2.4"/>
<rect x="1768.16" y="1074.19" width="12.6" height="116.21" fill="#c46100" stroke="#000" stroke-width="2.4"/>
<line x1="1794.65" y1="1067.59" x2="1794.65" y2="1077.09" stroke="#000" stroke-width="2.4"/>
<line x1="1791.35" y1="1067.59" x2="1797.95" y2="1067.59" stroke="#000" stroke-width="2.4"/>
<rect x="1788.35" y="1077.29" width="12.6" height="113.11" fill="#008200" stroke="#000" stroke-width="2.4"/>
<line x1="1828.81" y1="1082.73" x2="1828.81" y2="1090.68" stroke="#000" stroke-width="2.4"/>
<line x1="1825.51" y1="1082.73" x2="1832.11" y2="1082.73" stroke="#000" stroke-width="2.4"/>
<rect x="1822.51" y="1090.88" width="12.6" height="99.52" fill="#c7c300" stroke="#000" stroke-width="2.4"/>
<line x1="1849" y1="1127.37" x2="1849" y2="1132.99" stroke="#000" stroke-width="2.4"/>
<line x1="1845.7" y1="1127.37" x2="1852.3" y2="1127.37" stroke="#000" stroke-width="2.4"/>
<rect x="1842.7" y="1133.19" width="12.6" height="57.21" fill="#0a8099" stroke="#000" stroke-width="2.4"/>
<line x1="1869.18" y1="1129.7" x2="1869.18" y2="1134.93" stroke="#000" stroke-width="2.4"/>
<line x1="1865.88" y1="1129.7" x2="1872.48" y2="1129.7" stroke="#000" stroke-width="2.4"/>
<rect x="1862.88" y="1135.13" width="12.6" height="55.27" fill="#c46100" stroke="#000" stroke-width="2.4"/>
<line x1="1889.37" y1="1095.93" x2="1889.37" y2="1103.88" stroke="#000" stroke-width="2.4"/>
<line x1="1886.07" y1="1095.93" x2="1892.67" y2="1095.93" stroke="#000" stroke-width="2.4"/>
<rect x="1883.07" y="1104.08" width="12.6" height="86.32" fill="#008200" stroke="#000" stroke-width="2.4"/>
<line x1="1923.53" y1="1079.62" x2="1923.53" y2="1090.68" stroke="#000" stroke-width="2.4"/>
<line x1="1920.23" y1="1079.62" x2="1926.83" y2="1079.62" stroke="#000" stroke-width="2.4"/>
<rect x="1917.23" y="1090.88" width="12.6" height="99.52" fill="#c7c300" stroke="#000" stroke-width="2.4"/>
<line x1="1944.11" y1="971.7" x2="1944.11" y2="990.14" stroke="#000" stroke-width="2.4"/>
<line x1="1940.81" y1="971.7" x2="1947.41" y2="971.7" stroke="#000" stroke-width="2.4"/>
<rect x="1937.81" y="990.34" width="12.6" height="200.06" fill="#0a8099" stroke="#000" stroke-width="2.4"/>
<line x1="1964.29" y1="973.64" x2="1964.29" y2="990.91" stroke="#000" stroke-width="2.4"/>
<line x1="1960.99" y1="973.64" x2="1967.59" y2="973.64" stroke="#000" stroke-width="2.4"/>
<rect x="1957.99" y="991.11" width="12.6" height="199.29" fill="#c46100" stroke="#000" stroke-width="2.4"/>
<line x1="1984.48" y1="1066.81" x2="1984.48" y2="1075.93" stroke="#000" stroke-width="2.4"/>
<line x1="1981.18" y1="1066.81" x2="1987.78" y2="1066.81" stroke="#000" stroke-width="2.4"/>
<rect x="1978.18" y="1076.13" width="12.6" height="114.27" fill="#008200" stroke="#000" stroke-width="2.4"/>
<line x1="1639.7" y1="952.1" x2="1659.8" y2="952.1" stroke="#000" stroke-width="2.4"/>
<text x="1635.5" y="958.66" font-size="27" text-anchor="middle" textLength="11.4" lengthAdjust="spacingAndGlyphs">*</text>
<text x="1649.4" y="958.66" font-size="27" text-anchor="middle" textLength="11.4" lengthAdjust="spacingAndGlyphs">*</text>
<text x="1663.3" y="958.66" font-size="27" text-anchor="middle" textLength="11.4" lengthAdjust="spacingAndGlyphs">*</text>
<line x1="1677.9" y1="948.5" x2="1697.3" y2="948.5" stroke="#000" stroke-width="2.4"/>
<text x="1678" y="955.06" font-size="27" text-anchor="middle" textLength="11.4" lengthAdjust="spacingAndGlyphs">*</text>
<text x="1691.9" y="955.06" font-size="27" text-anchor="middle" textLength="11.4" lengthAdjust="spacingAndGlyphs">*</text>
<text x="1705.8" y="955.06" font-size="27" text-anchor="middle" textLength="11.4" lengthAdjust="spacingAndGlyphs">*</text>
<line x1="1827.8" y1="1075.9" x2="1847.1" y2="1075.9" stroke="#000" stroke-width="2.4"/>
<text x="1831.95" y="1082.06" font-size="27" text-anchor="middle" textLength="11.4" lengthAdjust="spacingAndGlyphs">*</text>
<text x="1845.85" y="1082.06" font-size="27" text-anchor="middle" textLength="11.4" lengthAdjust="spacingAndGlyphs">*</text>
<line x1="1870.8" y1="1088.5" x2="1890.1" y2="1088.5" stroke="#000" stroke-width="2.4"/>
<text x="1881" y="1094.46" font-size="27" text-anchor="middle" textLength="11.4" lengthAdjust="spacingAndGlyphs">*</text>
<line x1="1923.2" y1="964.2" x2="1942.6" y2="964.2" stroke="#000" stroke-width="2.4"/>
<text x="1917.3" y="971.26" font-size="27" text-anchor="middle" textLength="11.4" lengthAdjust="spacingAndGlyphs">*</text>
<text x="1931.2" y="971.26" font-size="27" text-anchor="middle" textLength="11.4" lengthAdjust="spacingAndGlyphs">*</text>
<text x="1945.1" y="971.26" font-size="27" text-anchor="middle" textLength="11.4" lengthAdjust="spacingAndGlyphs">*</text>
<line x1="1965.5" y1="968.3" x2="1981.2" y2="968.3" stroke="#000" stroke-width="2.4"/>
<text x="1959.9" y="974.46" font-size="27" text-anchor="middle" textLength="11.4" lengthAdjust="spacingAndGlyphs">*</text>
<text x="1973.8" y="974.46" font-size="27" text-anchor="middle" textLength="11.4" lengthAdjust="spacingAndGlyphs">*</text>
<text x="1987.7" y="974.46" font-size="27" text-anchor="middle" textLength="11.4" lengthAdjust="spacingAndGlyphs">*</text>
<text x="1668.8" y="1219.6" font-size="19.6" text-anchor="middle" textLength="38.5" lengthAdjust="spacingAndGlyphs">ki67</text>
<text x="1764.1" y="1219.6" font-size="19.6" text-anchor="middle" textLength="62.5" lengthAdjust="spacingAndGlyphs">pro-c3</text>
<text x="1859" y="1219.6" font-size="19.6" text-anchor="middle" textLength="105.5" lengthAdjust="spacingAndGlyphs">cleaved-c3</text>
<text x="1953.9" y="1219.6" font-size="19.6" text-anchor="middle" textLength="56.5" lengthAdjust="spacingAndGlyphs">LDHA</text>
</svg>
</body>
</html>
